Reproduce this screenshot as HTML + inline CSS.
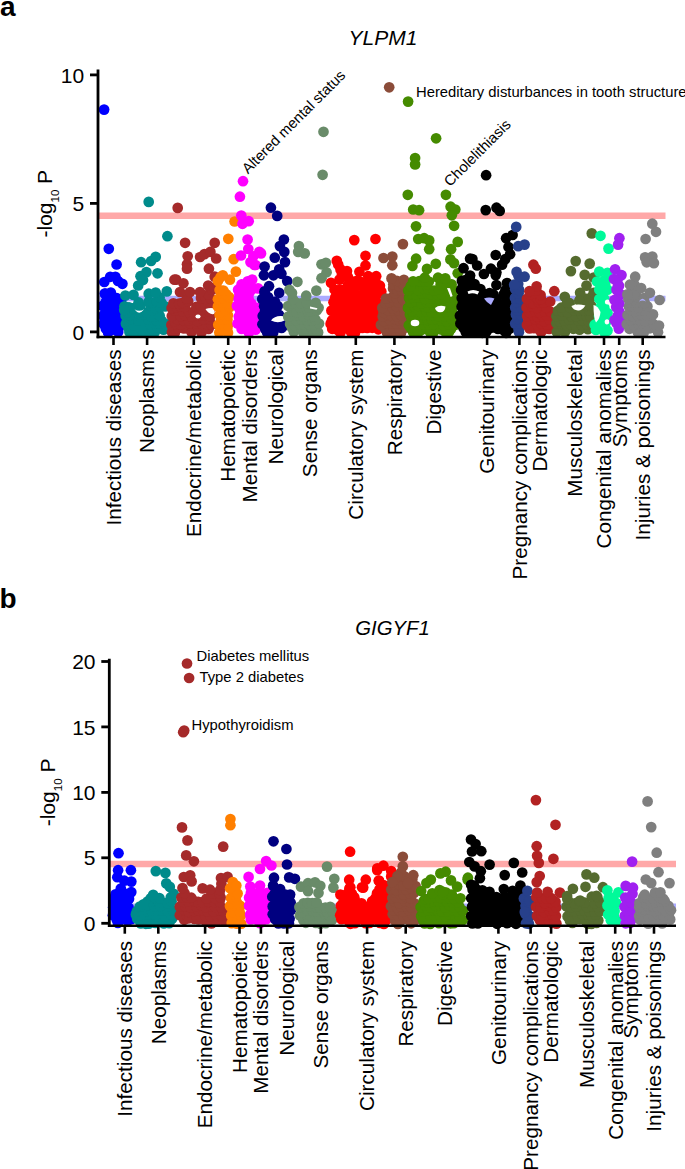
<!DOCTYPE html>
<html><head><meta charset="utf-8"><style>
html,body{margin:0;padding:0;background:#fff;}
svg{display:block;font-family:"Liberation Sans",sans-serif;}
</style></head><body>
<svg width="685" height="1169" viewBox="0 0 685 1169">
<rect width="685" height="1169" fill="#fff"/>
<text x="0" y="15.6" font-size="28" font-weight="bold">a</text>
<text x="-0.5" y="608" font-size="28" font-weight="bold">b</text>
<line x1="98" y1="298.5" x2="665.5" y2="298.5" stroke="#ABABFF" stroke-width="5.5"/>
<line x1="98" y1="215.7" x2="665.5" y2="215.7" stroke="#FFA8A8" stroke-width="6.5"/>
<g fill="#0000FF"><circle cx="108.1" cy="332.4" r="5.35"/><circle cx="118.2" cy="332.0" r="5.35"/><circle cx="105.8" cy="328.5" r="5.35"/><circle cx="108.8" cy="328.5" r="5.35"/><circle cx="114.3" cy="329.7" r="5.35"/><circle cx="118.9" cy="327.5" r="5.35"/><circle cx="103.6" cy="324.0" r="5.35"/><circle cx="107.3" cy="323.2" r="5.35"/><circle cx="112.4" cy="324.3" r="5.35"/><circle cx="116.9" cy="323.6" r="5.35"/><circle cx="104.5" cy="318.8" r="5.35"/><circle cx="110.1" cy="320.3" r="5.35"/><circle cx="116.2" cy="320.8" r="5.35"/><circle cx="119.6" cy="320.5" r="5.35"/><circle cx="103.5" cy="315.4" r="5.35"/><circle cx="107.9" cy="315.1" r="5.35"/><circle cx="113.4" cy="316.4" r="5.35"/><circle cx="117.7" cy="314.5" r="5.35"/><circle cx="105.7" cy="311.0" r="5.35"/><circle cx="110.1" cy="311.7" r="5.35"/><circle cx="114.7" cy="311.1" r="5.35"/><circle cx="120.7" cy="311.3" r="5.35"/><circle cx="102.5" cy="305.8" r="5.35"/><circle cx="108.0" cy="308.1" r="5.35"/><circle cx="112.2" cy="306.1" r="5.35"/><circle cx="118.7" cy="307.5" r="5.35"/><circle cx="105.9" cy="301.9" r="5.35"/><circle cx="111.1" cy="302.7" r="5.35"/><circle cx="107.5" cy="298.3" r="5.35"/><circle cx="111.4" cy="299.1" r="5.35"/><circle cx="116.8" cy="298.2" r="5.35"/><circle cx="104.7" cy="293.5" r="5.35"/><circle cx="110.3" cy="294.1" r="5.35"/><circle cx="104.1" cy="109.6" r="5.35"/><circle cx="108.8" cy="248.8" r="5.35"/><circle cx="116.6" cy="264.5" r="5.35"/><circle cx="110.2" cy="276.8" r="5.35"/><circle cx="115.4" cy="276.8" r="5.35"/><circle cx="104.3" cy="282" r="5.35"/><circle cx="122.4" cy="283.8" r="5.35"/><circle cx="118" cy="281" r="5.35"/><circle cx="105.5" cy="293.7" r="5.35"/><circle cx="110.8" cy="292.6" r="5.35"/><circle cx="114.9" cy="299.6" r="5.35"/><circle cx="121.3" cy="299.6" r="5.35"/></g>
<g fill="#008B8B"><circle cx="129.4" cy="332.1" r="5.35"/><circle cx="134.6" cy="332.0" r="5.35"/><circle cx="140.1" cy="332.2" r="5.35"/><circle cx="145.5" cy="332.9" r="5.35"/><circle cx="149.9" cy="331.9" r="5.35"/><circle cx="154.8" cy="332.3" r="5.35"/><circle cx="128.3" cy="327.5" r="5.35"/><circle cx="131.7" cy="329.2" r="5.35"/><circle cx="138.0" cy="329.1" r="5.35"/><circle cx="141.8" cy="329.8" r="5.35"/><circle cx="147.5" cy="328.0" r="5.35"/><circle cx="152.2" cy="328.8" r="5.35"/><circle cx="157.8" cy="327.6" r="5.35"/><circle cx="163.6" cy="329.6" r="5.35"/><circle cx="125.9" cy="323.8" r="5.35"/><circle cx="130.6" cy="324.1" r="5.35"/><circle cx="133.8" cy="325.2" r="5.35"/><circle cx="140.8" cy="325.4" r="5.35"/><circle cx="144.2" cy="325.2" r="5.35"/><circle cx="150.5" cy="324.3" r="5.35"/><circle cx="154.6" cy="323.6" r="5.35"/><circle cx="159.8" cy="323.6" r="5.35"/><circle cx="165.4" cy="323.8" r="5.35"/><circle cx="127.1" cy="320.8" r="5.35"/><circle cx="131.3" cy="319.2" r="5.35"/><circle cx="138.7" cy="320.6" r="5.35"/><circle cx="141.8" cy="320.4" r="5.35"/><circle cx="148.5" cy="319.6" r="5.35"/><circle cx="152.9" cy="319.9" r="5.35"/><circle cx="156.9" cy="320.5" r="5.35"/><circle cx="161.7" cy="320.9" r="5.35"/><circle cx="125.6" cy="315.8" r="5.35"/><circle cx="129.7" cy="315.2" r="5.35"/><circle cx="140.9" cy="314.7" r="5.35"/><circle cx="144.1" cy="314.5" r="5.35"/><circle cx="150.9" cy="316.3" r="5.35"/><circle cx="154.6" cy="315.9" r="5.35"/><circle cx="159.7" cy="315.8" r="5.35"/><circle cx="127.7" cy="312.3" r="5.35"/><circle cx="136.3" cy="311.7" r="5.35"/><circle cx="141.6" cy="312.2" r="5.35"/><circle cx="146.9" cy="312.4" r="5.35"/><circle cx="151.6" cy="310.5" r="5.35"/><circle cx="124.5" cy="306.3" r="5.35"/><circle cx="129.0" cy="307.3" r="5.35"/><circle cx="133.8" cy="308.1" r="5.35"/><circle cx="140.2" cy="306.8" r="5.35"/><circle cx="151.1" cy="306.0" r="5.35"/><circle cx="155.3" cy="308.1" r="5.35"/><circle cx="160.5" cy="307.3" r="5.35"/><circle cx="165.1" cy="306.4" r="5.35"/><circle cx="138.6" cy="302.3" r="5.35"/><circle cx="148.4" cy="302.1" r="5.35"/><circle cx="152.6" cy="302.7" r="5.35"/><circle cx="156.9" cy="301.4" r="5.35"/><circle cx="161.5" cy="302.7" r="5.35"/><circle cx="159.6" cy="297.3" r="5.35"/><circle cx="148.7" cy="201.9" r="5.35"/><circle cx="167.4" cy="236.2" r="5.35"/><circle cx="141.1" cy="262.2" r="5.35"/><circle cx="151.1" cy="261" r="5.35"/><circle cx="155.7" cy="256.9" r="5.35"/><circle cx="157.5" cy="273.3" r="5.35"/><circle cx="146.4" cy="272.1" r="5.35"/><circle cx="140.5" cy="276.2" r="5.35"/><circle cx="138.2" cy="285.5" r="5.35"/><circle cx="143" cy="280" r="5.35"/><circle cx="125.4" cy="295.5" r="5.35"/><circle cx="133.5" cy="294.9" r="5.35"/><circle cx="148.7" cy="293.7" r="5.35"/><circle cx="155.7" cy="292.6" r="5.35"/><circle cx="166.8" cy="291.4" r="5.35"/><circle cx="124.2" cy="310" r="5.35"/></g>
<path d="M134.5,309.3 Q139,316 144.2,309.3 Q139,312.3 134.5,309.3Z" fill="#fff"/>
<g fill="#A52A2A"><circle cx="171.9" cy="332.1" r="5.35"/><circle cx="174.9" cy="332.6" r="5.35"/><circle cx="191.5" cy="332.2" r="5.35"/><circle cx="201.4" cy="332.4" r="5.35"/><circle cx="174.3" cy="328.5" r="5.35"/><circle cx="178.1" cy="328.1" r="5.35"/><circle cx="183.9" cy="328.5" r="5.35"/><circle cx="187.4" cy="328.3" r="5.35"/><circle cx="192.6" cy="328.1" r="5.35"/><circle cx="198.3" cy="328.4" r="5.35"/><circle cx="202.9" cy="327.5" r="5.35"/><circle cx="208.5" cy="329.0" r="5.35"/><circle cx="171.4" cy="324.9" r="5.35"/><circle cx="176.0" cy="324.2" r="5.35"/><circle cx="180.8" cy="324.4" r="5.35"/><circle cx="187.0" cy="323.8" r="5.35"/><circle cx="189.9" cy="323.3" r="5.35"/><circle cx="196.9" cy="323.5" r="5.35"/><circle cx="201.9" cy="323.8" r="5.35"/><circle cx="206.8" cy="324.0" r="5.35"/><circle cx="211.6" cy="324.5" r="5.35"/><circle cx="174.5" cy="321.1" r="5.35"/><circle cx="177.7" cy="319.4" r="5.35"/><circle cx="183.7" cy="320.6" r="5.35"/><circle cx="188.9" cy="320.5" r="5.35"/><circle cx="193.5" cy="319.1" r="5.35"/><circle cx="197.4" cy="321.1" r="5.35"/><circle cx="203.8" cy="319.4" r="5.35"/><circle cx="209.6" cy="319.1" r="5.35"/><circle cx="171.8" cy="316.0" r="5.35"/><circle cx="180.7" cy="316.3" r="5.35"/><circle cx="185.2" cy="315.2" r="5.35"/><circle cx="192.0" cy="316.7" r="5.35"/><circle cx="196.2" cy="315.4" r="5.35"/><circle cx="200.5" cy="315.0" r="5.35"/><circle cx="204.8" cy="314.9" r="5.35"/><circle cx="209.9" cy="315.9" r="5.35"/><circle cx="174.3" cy="310.5" r="5.35"/><circle cx="178.6" cy="310.7" r="5.35"/><circle cx="182.9" cy="311.7" r="5.35"/><circle cx="189.2" cy="312.4" r="5.35"/><circle cx="193.5" cy="312.1" r="5.35"/><circle cx="198.7" cy="311.0" r="5.35"/><circle cx="202.6" cy="312.0" r="5.35"/><circle cx="209.1" cy="311.4" r="5.35"/><circle cx="171.6" cy="308.0" r="5.35"/><circle cx="176.0" cy="307.1" r="5.35"/><circle cx="181.0" cy="306.6" r="5.35"/><circle cx="184.8" cy="306.8" r="5.35"/><circle cx="196.4" cy="306.9" r="5.35"/><circle cx="200.7" cy="306.2" r="5.35"/><circle cx="205.5" cy="307.1" r="5.35"/><circle cx="211.8" cy="306.9" r="5.35"/><circle cx="173.4" cy="303.4" r="5.35"/><circle cx="179.1" cy="303.7" r="5.35"/><circle cx="182.7" cy="302.8" r="5.35"/><circle cx="188.2" cy="301.4" r="5.35"/><circle cx="208.8" cy="302.9" r="5.35"/><circle cx="186.8" cy="298.5" r="5.35"/><circle cx="201.0" cy="298.1" r="5.35"/><circle cx="206.0" cy="298.8" r="5.35"/><circle cx="210.7" cy="298.6" r="5.35"/><circle cx="208.5" cy="294.4" r="5.35"/><circle cx="212.0" cy="289.8" r="5.35"/><circle cx="177.7" cy="207.9" r="5.35"/><circle cx="185.1" cy="242.8" r="5.35"/><circle cx="214.7" cy="242.8" r="5.35"/><circle cx="187.7" cy="256.3" r="5.35"/><circle cx="200.1" cy="257" r="5.35"/><circle cx="204.5" cy="254.1" r="5.35"/><circle cx="210.4" cy="251.9" r="5.35"/><circle cx="216.2" cy="258.5" r="5.35"/><circle cx="187" cy="264.3" r="5.35"/><circle cx="187" cy="268.7" r="5.35"/><circle cx="208.9" cy="268.7" r="5.35"/><circle cx="176.1" cy="279.6" r="5.35"/><circle cx="183.4" cy="283.3" r="5.35"/><circle cx="214.7" cy="276.7" r="5.35"/><circle cx="208.2" cy="285.5" r="5.35"/><circle cx="174.4" cy="279.7" r="5.35"/><circle cx="180" cy="292" r="5.35"/><circle cx="190" cy="292" r="5.35"/><circle cx="200" cy="292" r="5.35"/><circle cx="214" cy="288" r="5.35"/></g>
<path d="M205.5,309 Q210,307.5 215,308.5 L214,314 Q209,315 205.5,309Z" fill="#fff"/>
<ellipse cx="198" cy="316.5" rx="2.6" ry="2" fill="#fff"/>
<g fill="#FF7F00"><circle cx="219.3" cy="332.6" r="5.35"/><circle cx="228.0" cy="332.8" r="5.35"/><circle cx="221.2" cy="327.9" r="5.35"/><circle cx="227.3" cy="328.6" r="5.35"/><circle cx="218.3" cy="324.8" r="5.35"/><circle cx="224.2" cy="325.3" r="5.35"/><circle cx="227.9" cy="325.0" r="5.35"/><circle cx="221.1" cy="319.7" r="5.35"/><circle cx="227.5" cy="319.7" r="5.35"/><circle cx="219.6" cy="314.8" r="5.35"/><circle cx="222.8" cy="314.7" r="5.35"/><circle cx="227.9" cy="315.3" r="5.35"/><circle cx="221.4" cy="312.1" r="5.35"/><circle cx="225.4" cy="310.2" r="5.35"/><circle cx="217.9" cy="306.4" r="5.35"/><circle cx="223.0" cy="305.8" r="5.35"/><circle cx="229.6" cy="307.3" r="5.35"/><circle cx="221.9" cy="302.3" r="5.35"/><circle cx="227.6" cy="302.9" r="5.35"/><circle cx="217.9" cy="299.2" r="5.35"/><circle cx="223.6" cy="298.5" r="5.35"/><circle cx="229.1" cy="297.1" r="5.35"/><circle cx="221.3" cy="293.1" r="5.35"/><circle cx="226.3" cy="294.2" r="5.35"/><circle cx="219.6" cy="290.0" r="5.35"/><circle cx="223.4" cy="290.6" r="5.35"/><circle cx="217.9" cy="280.9" r="5.35"/><circle cx="229.9" cy="279.7" r="5.35"/><circle cx="220.5" cy="277.2" r="5.35"/><circle cx="234.6" cy="221.5" r="5.35"/><circle cx="228.3" cy="238.8" r="5.35"/><circle cx="233.7" cy="259.2" r="5.35"/><circle cx="235.9" cy="271.6" r="5.35"/><circle cx="222.8" cy="275.3" r="5.35"/></g>
<g fill="#FF00FF"><circle cx="248.9" cy="332.5" r="5.35"/><circle cx="241.6" cy="328.9" r="5.35"/><circle cx="245.9" cy="328.5" r="5.35"/><circle cx="251.0" cy="329.5" r="5.35"/><circle cx="255.6" cy="329.6" r="5.35"/><circle cx="237.5" cy="323.5" r="5.35"/><circle cx="243.1" cy="323.3" r="5.35"/><circle cx="248.2" cy="323.2" r="5.35"/><circle cx="253.4" cy="323.9" r="5.35"/><circle cx="240.5" cy="320.0" r="5.35"/><circle cx="246.5" cy="319.5" r="5.35"/><circle cx="249.5" cy="321.1" r="5.35"/><circle cx="256.5" cy="321.0" r="5.35"/><circle cx="238.8" cy="316.6" r="5.35"/><circle cx="243.7" cy="314.7" r="5.35"/><circle cx="248.2" cy="316.8" r="5.35"/><circle cx="253.5" cy="316.2" r="5.35"/><circle cx="240.3" cy="311.2" r="5.35"/><circle cx="245.6" cy="310.5" r="5.35"/><circle cx="250.9" cy="311.4" r="5.35"/><circle cx="254.7" cy="311.0" r="5.35"/><circle cx="236.9" cy="305.9" r="5.35"/><circle cx="242.4" cy="306.0" r="5.35"/><circle cx="248.3" cy="307.0" r="5.35"/><circle cx="252.0" cy="307.7" r="5.35"/><circle cx="257.2" cy="307.8" r="5.35"/><circle cx="240.2" cy="303.4" r="5.35"/><circle cx="245.0" cy="303.5" r="5.35"/><circle cx="251.4" cy="303.5" r="5.35"/><circle cx="238.7" cy="298.7" r="5.35"/><circle cx="244.2" cy="297.6" r="5.35"/><circle cx="248.6" cy="298.8" r="5.35"/><circle cx="239.4" cy="294.7" r="5.35"/><circle cx="244.8" cy="293.4" r="5.35"/><circle cx="249.3" cy="292.9" r="5.35"/><circle cx="238.1" cy="289.7" r="5.35"/><circle cx="249.1" cy="289.3" r="5.35"/><circle cx="252.5" cy="289.0" r="5.35"/><circle cx="241.6" cy="284.3" r="5.35"/><circle cx="246.7" cy="285.7" r="5.35"/><circle cx="247.7" cy="281.4" r="5.35"/><circle cx="243" cy="181.2" r="5.35"/><circle cx="239.9" cy="196.7" r="5.35"/><circle cx="241.3" cy="215.6" r="5.35"/><circle cx="248.7" cy="221.2" r="5.35"/><circle cx="242.5" cy="223.8" r="5.35"/><circle cx="247.6" cy="239.5" r="5.35"/><circle cx="248.3" cy="249" r="5.35"/><circle cx="241" cy="255.5" r="5.35"/><circle cx="253.4" cy="256.3" r="5.35"/><circle cx="250.5" cy="262.1" r="5.35"/><circle cx="255.6" cy="265" r="5.35"/><circle cx="259.3" cy="251.9" r="5.35"/><circle cx="261" cy="253.4" r="5.35"/><circle cx="254.4" cy="265" r="5.35"/><circle cx="252.2" cy="279.6" r="5.35"/><circle cx="258" cy="288.4" r="5.35"/></g>
<g fill="#000080"><circle cx="267.2" cy="332.4" r="5.35"/><circle cx="273.2" cy="332.5" r="5.35"/><circle cx="265.3" cy="329.3" r="5.35"/><circle cx="271.0" cy="328.6" r="5.35"/><circle cx="276.0" cy="327.7" r="5.35"/><circle cx="281.6" cy="328.0" r="5.35"/><circle cx="262.4" cy="324.3" r="5.35"/><circle cx="267.8" cy="324.8" r="5.35"/><circle cx="272.0" cy="324.6" r="5.35"/><circle cx="278.1" cy="324.4" r="5.35"/><circle cx="284.1" cy="325.4" r="5.35"/><circle cx="265.6" cy="319.8" r="5.35"/><circle cx="269.6" cy="319.4" r="5.35"/><circle cx="275.5" cy="320.7" r="5.35"/><circle cx="281.2" cy="320.4" r="5.35"/><circle cx="262.7" cy="316.0" r="5.35"/><circle cx="268.0" cy="316.6" r="5.35"/><circle cx="273.8" cy="314.7" r="5.35"/><circle cx="279.0" cy="314.9" r="5.35"/><circle cx="265.0" cy="311.2" r="5.35"/><circle cx="270.6" cy="310.6" r="5.35"/><circle cx="275.1" cy="311.2" r="5.35"/><circle cx="264.1" cy="306.3" r="5.35"/><circle cx="267.9" cy="307.5" r="5.35"/><circle cx="272.3" cy="306.4" r="5.35"/><circle cx="277.8" cy="306.0" r="5.35"/><circle cx="265.6" cy="302.8" r="5.35"/><circle cx="270.3" cy="302.0" r="5.35"/><circle cx="274.9" cy="301.9" r="5.35"/><circle cx="262.2" cy="299.1" r="5.35"/><circle cx="268.1" cy="297.1" r="5.35"/><circle cx="264.6" cy="293.0" r="5.35"/><circle cx="270.9" cy="207.7" r="5.35"/><circle cx="277.2" cy="215.9" r="5.35"/><circle cx="283.9" cy="239.5" r="5.35"/><circle cx="279.9" cy="246.1" r="5.35"/><circle cx="284.3" cy="251.9" r="5.35"/><circle cx="274.8" cy="257.7" r="5.35"/><circle cx="285" cy="262.1" r="5.35"/><circle cx="264.6" cy="266.5" r="5.35"/><circle cx="263.9" cy="275.3" r="5.35"/><circle cx="273.4" cy="275.3" r="5.35"/><circle cx="279.2" cy="269.4" r="5.35"/><circle cx="281.4" cy="273.8" r="5.35"/><circle cx="287.2" cy="281.1" r="5.35"/><circle cx="269" cy="286.2" r="5.35"/><circle cx="264.6" cy="291.3" r="5.35"/><circle cx="279.2" cy="292.8" r="5.35"/></g>
<path d="M271,320.5 Q275,314.5 285,316.3 L294,316.5 Q290,319.5 285,320.3 Q278,324 271,320.5Z" fill="#fff"/>
<g fill="#698B69"><circle cx="293.8" cy="331.8" r="5.35"/><circle cx="303.0" cy="332.3" r="5.35"/><circle cx="310.2" cy="332.6" r="5.35"/><circle cx="314.0" cy="331.9" r="5.35"/><circle cx="318.1" cy="332.4" r="5.35"/><circle cx="291.9" cy="327.5" r="5.35"/><circle cx="297.0" cy="327.7" r="5.35"/><circle cx="300.9" cy="327.6" r="5.35"/><circle cx="305.6" cy="328.4" r="5.35"/><circle cx="311.8" cy="328.0" r="5.35"/><circle cx="316.0" cy="328.7" r="5.35"/><circle cx="290.1" cy="323.9" r="5.35"/><circle cx="294.3" cy="325.1" r="5.35"/><circle cx="299.9" cy="324.1" r="5.35"/><circle cx="304.3" cy="324.4" r="5.35"/><circle cx="309.1" cy="324.0" r="5.35"/><circle cx="314.3" cy="324.4" r="5.35"/><circle cx="319.0" cy="323.5" r="5.35"/><circle cx="291.3" cy="320.1" r="5.35"/><circle cx="296.0" cy="320.0" r="5.35"/><circle cx="301.3" cy="319.0" r="5.35"/><circle cx="306.9" cy="320.1" r="5.35"/><circle cx="312.3" cy="320.5" r="5.35"/><circle cx="315.4" cy="319.5" r="5.35"/><circle cx="288.2" cy="316.6" r="5.35"/><circle cx="294.9" cy="314.9" r="5.35"/><circle cx="299.8" cy="315.2" r="5.35"/><circle cx="303.2" cy="316.4" r="5.35"/><circle cx="308.9" cy="314.7" r="5.35"/><circle cx="313.4" cy="316.0" r="5.35"/><circle cx="292.5" cy="311.6" r="5.35"/><circle cx="296.6" cy="312.2" r="5.35"/><circle cx="302.2" cy="311.5" r="5.35"/><circle cx="307.5" cy="311.0" r="5.35"/><circle cx="310.4" cy="311.2" r="5.35"/><circle cx="317.0" cy="310.1" r="5.35"/><circle cx="288.1" cy="306.0" r="5.35"/><circle cx="300.0" cy="307.3" r="5.35"/><circle cx="308.4" cy="307.0" r="5.35"/><circle cx="318.6" cy="307.8" r="5.35"/><circle cx="291.9" cy="303.7" r="5.35"/><circle cx="295.4" cy="302.4" r="5.35"/><circle cx="301.0" cy="303.3" r="5.35"/><circle cx="307.0" cy="302.9" r="5.35"/><circle cx="315.7" cy="302.9" r="5.35"/><circle cx="292.9" cy="299.2" r="5.35"/><circle cx="292.0" cy="293.1" r="5.35"/><circle cx="323.5" cy="131.8" r="5.35"/><circle cx="322.6" cy="174.8" r="5.35"/><circle cx="298.9" cy="246.1" r="5.35"/><circle cx="298.2" cy="251.9" r="5.35"/><circle cx="304.7" cy="253.4" r="5.35"/><circle cx="321.5" cy="264.3" r="5.35"/><circle cx="325.9" cy="262.8" r="5.35"/><circle cx="326.6" cy="272.3" r="5.35"/><circle cx="321.5" cy="278.2" r="5.35"/><circle cx="297.4" cy="281.8" r="5.35"/><circle cx="289.4" cy="289.9" r="5.35"/><circle cx="316.4" cy="290.6" r="5.35"/><circle cx="306.2" cy="295.7" r="5.35"/></g>
<path d="M310,306.6 L317.5,308.3 L316.5,309.8 L310,308.6Z" fill="#fff"/>
<g fill="#FF0000"><circle cx="340.4" cy="332.6" r="5.35"/><circle cx="351.1" cy="332.2" r="5.35"/><circle cx="355.0" cy="332.8" r="5.35"/><circle cx="332.2" cy="328.8" r="5.35"/><circle cx="337.4" cy="329.8" r="5.35"/><circle cx="341.3" cy="329.7" r="5.35"/><circle cx="347.0" cy="328.4" r="5.35"/><circle cx="353.7" cy="329.1" r="5.35"/><circle cx="357.6" cy="328.5" r="5.35"/><circle cx="362.3" cy="327.9" r="5.35"/><circle cx="367.2" cy="327.9" r="5.35"/><circle cx="372.2" cy="327.8" r="5.35"/><circle cx="378.3" cy="329.3" r="5.35"/><circle cx="330.6" cy="323.9" r="5.35"/><circle cx="334.4" cy="323.9" r="5.35"/><circle cx="339.9" cy="323.5" r="5.35"/><circle cx="344.4" cy="323.6" r="5.35"/><circle cx="350.1" cy="323.6" r="5.35"/><circle cx="355.9" cy="324.5" r="5.35"/><circle cx="359.7" cy="323.6" r="5.35"/><circle cx="364.0" cy="325.0" r="5.35"/><circle cx="370.6" cy="324.0" r="5.35"/><circle cx="375.2" cy="323.4" r="5.35"/><circle cx="379.0" cy="323.7" r="5.35"/><circle cx="332.0" cy="320.3" r="5.35"/><circle cx="337.2" cy="320.8" r="5.35"/><circle cx="343.0" cy="319.6" r="5.35"/><circle cx="346.5" cy="320.7" r="5.35"/><circle cx="352.4" cy="319.4" r="5.35"/><circle cx="357.7" cy="320.2" r="5.35"/><circle cx="361.9" cy="318.9" r="5.35"/><circle cx="367.1" cy="320.7" r="5.35"/><circle cx="372.8" cy="319.0" r="5.35"/><circle cx="377.8" cy="319.3" r="5.35"/><circle cx="335.5" cy="316.4" r="5.35"/><circle cx="341.0" cy="314.7" r="5.35"/><circle cx="344.4" cy="314.4" r="5.35"/><circle cx="349.3" cy="316.2" r="5.35"/><circle cx="355.0" cy="315.9" r="5.35"/><circle cx="360.3" cy="316.0" r="5.35"/><circle cx="365.0" cy="316.5" r="5.35"/><circle cx="370.6" cy="315.4" r="5.35"/><circle cx="374.0" cy="316.4" r="5.35"/><circle cx="331.4" cy="310.6" r="5.35"/><circle cx="337.6" cy="312.3" r="5.35"/><circle cx="341.5" cy="311.7" r="5.35"/><circle cx="347.3" cy="311.1" r="5.35"/><circle cx="352.7" cy="310.5" r="5.35"/><circle cx="357.6" cy="310.5" r="5.35"/><circle cx="363.4" cy="312.4" r="5.35"/><circle cx="366.5" cy="312.2" r="5.35"/><circle cx="373.3" cy="310.5" r="5.35"/><circle cx="378.5" cy="310.7" r="5.35"/><circle cx="334.8" cy="308.1" r="5.35"/><circle cx="340.8" cy="307.3" r="5.35"/><circle cx="346.0" cy="306.8" r="5.35"/><circle cx="350.1" cy="307.9" r="5.35"/><circle cx="354.8" cy="307.1" r="5.35"/><circle cx="359.2" cy="307.1" r="5.35"/><circle cx="364.5" cy="307.8" r="5.35"/><circle cx="370.7" cy="306.7" r="5.35"/><circle cx="375.7" cy="307.1" r="5.35"/><circle cx="333.5" cy="302.2" r="5.35"/><circle cx="337.6" cy="302.9" r="5.35"/><circle cx="342.5" cy="302.9" r="5.35"/><circle cx="347.4" cy="302.6" r="5.35"/><circle cx="351.3" cy="301.7" r="5.35"/><circle cx="356.8" cy="303.5" r="5.35"/><circle cx="361.6" cy="302.1" r="5.35"/><circle cx="368.3" cy="303.7" r="5.35"/><circle cx="372.8" cy="301.4" r="5.35"/><circle cx="377.8" cy="303.3" r="5.35"/><circle cx="335.3" cy="297.2" r="5.35"/><circle cx="341.0" cy="297.6" r="5.35"/><circle cx="344.5" cy="298.7" r="5.35"/><circle cx="349.3" cy="297.7" r="5.35"/><circle cx="355.6" cy="297.7" r="5.35"/><circle cx="361.1" cy="299.0" r="5.35"/><circle cx="364.6" cy="299.2" r="5.35"/><circle cx="369.1" cy="298.1" r="5.35"/><circle cx="375.6" cy="297.1" r="5.35"/><circle cx="341.8" cy="292.9" r="5.35"/><circle cx="347.7" cy="292.9" r="5.35"/><circle cx="357.1" cy="295.0" r="5.35"/><circle cx="361.8" cy="294.9" r="5.35"/><circle cx="368.7" cy="292.7" r="5.35"/><circle cx="372.6" cy="292.7" r="5.35"/><circle cx="376.5" cy="294.6" r="5.35"/><circle cx="334.5" cy="289.5" r="5.35"/><circle cx="339.7" cy="289.9" r="5.35"/><circle cx="344.2" cy="289.9" r="5.35"/><circle cx="351.0" cy="289.3" r="5.35"/><circle cx="353.9" cy="288.3" r="5.35"/><circle cx="364.8" cy="290.0" r="5.35"/><circle cx="369.0" cy="289.3" r="5.35"/><circle cx="347.9" cy="285.2" r="5.35"/><circle cx="353.2" cy="285.4" r="5.35"/><circle cx="357.0" cy="285.4" r="5.35"/><circle cx="362.4" cy="286.1" r="5.35"/><circle cx="373.0" cy="285.5" r="5.35"/><circle cx="377.3" cy="285.5" r="5.35"/><circle cx="339.5" cy="279.6" r="5.35"/><circle cx="349.3" cy="279.8" r="5.35"/><circle cx="356.2" cy="281.1" r="5.35"/><circle cx="360.5" cy="281.9" r="5.35"/><circle cx="369.2" cy="281.4" r="5.35"/><circle cx="375.2" cy="280.5" r="5.35"/><circle cx="347.8" cy="276.8" r="5.35"/><circle cx="354.3" cy="240.1" r="5.35"/><circle cx="375.5" cy="239" r="5.35"/><circle cx="365.5" cy="255.8" r="5.35"/><circle cx="365.5" cy="265.5" r="5.35"/><circle cx="336.8" cy="260.9" r="5.35"/><circle cx="338.2" cy="264.5" r="5.35"/><circle cx="340.5" cy="269.4" r="5.35"/><circle cx="347" cy="271.1" r="5.35"/><circle cx="341.9" cy="274" r="5.35"/><circle cx="359.4" cy="271.8" r="5.35"/><circle cx="368.2" cy="276.2" r="5.35"/><circle cx="376.2" cy="276.2" r="5.35"/><circle cx="331" cy="282.8" r="5.35"/><circle cx="379.9" cy="285.7" r="5.35"/><circle cx="381.3" cy="291.5" r="5.35"/></g>
<g fill="#8B4C39"><circle cx="387.0" cy="332.6" r="5.35"/><circle cx="392.2" cy="332.5" r="5.35"/><circle cx="396.5" cy="331.8" r="5.35"/><circle cx="401.0" cy="333.0" r="5.35"/><circle cx="385.4" cy="329.2" r="5.35"/><circle cx="390.7" cy="328.1" r="5.35"/><circle cx="393.9" cy="327.7" r="5.35"/><circle cx="399.5" cy="327.8" r="5.35"/><circle cx="405.6" cy="327.6" r="5.35"/><circle cx="380.9" cy="324.9" r="5.35"/><circle cx="386.0" cy="323.1" r="5.35"/><circle cx="391.6" cy="323.1" r="5.35"/><circle cx="396.3" cy="323.6" r="5.35"/><circle cx="402.1" cy="323.7" r="5.35"/><circle cx="383.8" cy="320.9" r="5.35"/><circle cx="389.6" cy="319.8" r="5.35"/><circle cx="394.3" cy="318.8" r="5.35"/><circle cx="399.8" cy="320.6" r="5.35"/><circle cx="403.7" cy="320.9" r="5.35"/><circle cx="382.7" cy="316.5" r="5.35"/><circle cx="387.8" cy="314.8" r="5.35"/><circle cx="391.5" cy="315.2" r="5.35"/><circle cx="396.9" cy="316.3" r="5.35"/><circle cx="401.1" cy="314.9" r="5.35"/><circle cx="383.6" cy="312.3" r="5.35"/><circle cx="388.8" cy="310.7" r="5.35"/><circle cx="394.3" cy="310.6" r="5.35"/><circle cx="398.9" cy="310.5" r="5.35"/><circle cx="404.4" cy="312.1" r="5.35"/><circle cx="382.3" cy="307.8" r="5.35"/><circle cx="392.9" cy="307.9" r="5.35"/><circle cx="396.1" cy="305.9" r="5.35"/><circle cx="402.9" cy="307.0" r="5.35"/><circle cx="385.5" cy="303.2" r="5.35"/><circle cx="389.4" cy="302.2" r="5.35"/><circle cx="394.4" cy="301.4" r="5.35"/><circle cx="398.7" cy="302.7" r="5.35"/><circle cx="405.0" cy="301.7" r="5.35"/><circle cx="386.0" cy="298.5" r="5.35"/><circle cx="392.3" cy="297.4" r="5.35"/><circle cx="396.5" cy="298.0" r="5.35"/><circle cx="402.9" cy="299.2" r="5.35"/><circle cx="395.0" cy="293.1" r="5.35"/><circle cx="393.1" cy="288.4" r="5.35"/><circle cx="397.3" cy="290.6" r="5.35"/><circle cx="401.4" cy="290.3" r="5.35"/><circle cx="393.3" cy="284.2" r="5.35"/><circle cx="399.2" cy="286.1" r="5.35"/><circle cx="403.8" cy="284.7" r="5.35"/><circle cx="396.9" cy="280.8" r="5.35"/><circle cx="389.2" cy="87.3" r="5.35"/><circle cx="402.9" cy="244.1" r="5.35"/><circle cx="383.5" cy="258" r="5.35"/><circle cx="392.3" cy="256.5" r="5.35"/><circle cx="392.3" cy="265.3" r="5.35"/><circle cx="391.5" cy="278.4" r="5.35"/><circle cx="403.9" cy="279.9" r="5.35"/></g>
<g fill="#458B00"><circle cx="413.1" cy="332.3" r="5.35"/><circle cx="418.7" cy="331.9" r="5.35"/><circle cx="429.9" cy="332.0" r="5.35"/><circle cx="433.3" cy="332.6" r="5.35"/><circle cx="445.2" cy="331.8" r="5.35"/><circle cx="449.0" cy="331.9" r="5.35"/><circle cx="410.6" cy="327.6" r="5.35"/><circle cx="417.1" cy="328.8" r="5.35"/><circle cx="421.8" cy="329.6" r="5.35"/><circle cx="426.5" cy="328.4" r="5.35"/><circle cx="430.5" cy="329.0" r="5.35"/><circle cx="435.3" cy="327.9" r="5.35"/><circle cx="441.1" cy="329.5" r="5.35"/><circle cx="446.0" cy="328.6" r="5.35"/><circle cx="451.0" cy="329.0" r="5.35"/><circle cx="408.8" cy="325.3" r="5.35"/><circle cx="413.7" cy="324.7" r="5.35"/><circle cx="419.2" cy="324.6" r="5.35"/><circle cx="423.6" cy="323.9" r="5.35"/><circle cx="429.1" cy="324.5" r="5.35"/><circle cx="433.8" cy="324.2" r="5.35"/><circle cx="440.1" cy="323.7" r="5.35"/><circle cx="443.4" cy="324.9" r="5.35"/><circle cx="449.0" cy="324.5" r="5.35"/><circle cx="455.0" cy="325.0" r="5.35"/><circle cx="411.5" cy="318.8" r="5.35"/><circle cx="416.6" cy="320.5" r="5.35"/><circle cx="421.7" cy="318.9" r="5.35"/><circle cx="427.3" cy="319.8" r="5.35"/><circle cx="431.9" cy="319.5" r="5.35"/><circle cx="437.1" cy="319.6" r="5.35"/><circle cx="441.4" cy="320.7" r="5.35"/><circle cx="446.7" cy="321.1" r="5.35"/><circle cx="451.5" cy="318.8" r="5.35"/><circle cx="409.9" cy="314.5" r="5.35"/><circle cx="414.0" cy="316.8" r="5.35"/><circle cx="418.1" cy="315.0" r="5.35"/><circle cx="423.6" cy="314.8" r="5.35"/><circle cx="429.3" cy="315.1" r="5.35"/><circle cx="433.8" cy="315.5" r="5.35"/><circle cx="438.2" cy="315.9" r="5.35"/><circle cx="444.2" cy="316.3" r="5.35"/><circle cx="448.2" cy="314.4" r="5.35"/><circle cx="453.1" cy="315.3" r="5.35"/><circle cx="412.1" cy="311.5" r="5.35"/><circle cx="417.3" cy="311.1" r="5.35"/><circle cx="420.4" cy="311.8" r="5.35"/><circle cx="426.2" cy="311.1" r="5.35"/><circle cx="431.4" cy="312.1" r="5.35"/><circle cx="435.8" cy="312.4" r="5.35"/><circle cx="441.2" cy="312.2" r="5.35"/><circle cx="445.7" cy="311.5" r="5.35"/><circle cx="452.2" cy="311.4" r="5.35"/><circle cx="408.0" cy="307.9" r="5.35"/><circle cx="414.8" cy="306.8" r="5.35"/><circle cx="418.0" cy="305.8" r="5.35"/><circle cx="425.0" cy="306.8" r="5.35"/><circle cx="428.2" cy="307.0" r="5.35"/><circle cx="434.9" cy="307.5" r="5.35"/><circle cx="438.2" cy="306.1" r="5.35"/><circle cx="444.3" cy="306.2" r="5.35"/><circle cx="448.3" cy="306.8" r="5.35"/><circle cx="453.0" cy="305.9" r="5.35"/><circle cx="410.7" cy="302.2" r="5.35"/><circle cx="416.0" cy="301.4" r="5.35"/><circle cx="421.4" cy="303.1" r="5.35"/><circle cx="426.7" cy="302.1" r="5.35"/><circle cx="430.7" cy="302.5" r="5.35"/><circle cx="436.4" cy="302.6" r="5.35"/><circle cx="441.1" cy="303.3" r="5.35"/><circle cx="446.6" cy="302.9" r="5.35"/><circle cx="451.1" cy="302.8" r="5.35"/><circle cx="409.0" cy="297.9" r="5.35"/><circle cx="413.3" cy="297.6" r="5.35"/><circle cx="419.2" cy="297.6" r="5.35"/><circle cx="425.0" cy="298.8" r="5.35"/><circle cx="430.1" cy="297.8" r="5.35"/><circle cx="434.2" cy="298.6" r="5.35"/><circle cx="439.7" cy="299.0" r="5.35"/><circle cx="443.3" cy="298.0" r="5.35"/><circle cx="449.4" cy="297.4" r="5.35"/><circle cx="455.0" cy="299.3" r="5.35"/><circle cx="412.2" cy="294.7" r="5.35"/><circle cx="415.5" cy="294.1" r="5.35"/><circle cx="422.0" cy="293.4" r="5.35"/><circle cx="427.2" cy="292.9" r="5.35"/><circle cx="430.7" cy="293.9" r="5.35"/><circle cx="437.7" cy="294.5" r="5.35"/><circle cx="441.3" cy="294.0" r="5.35"/><circle cx="408.2" cy="290.6" r="5.35"/><circle cx="414.2" cy="288.6" r="5.35"/><circle cx="418.6" cy="290.2" r="5.35"/><circle cx="423.6" cy="288.6" r="5.35"/><circle cx="428.2" cy="288.9" r="5.35"/><circle cx="434.0" cy="290.5" r="5.35"/><circle cx="439.1" cy="289.7" r="5.35"/><circle cx="448.6" cy="288.5" r="5.35"/><circle cx="454.1" cy="290.4" r="5.35"/><circle cx="410.8" cy="286.1" r="5.35"/><circle cx="427.2" cy="284.2" r="5.35"/><circle cx="440.6" cy="284.8" r="5.35"/><circle cx="447.1" cy="284.9" r="5.35"/><circle cx="451.6" cy="284.4" r="5.35"/><circle cx="419.3" cy="281.0" r="5.35"/><circle cx="424.8" cy="281.6" r="5.35"/><circle cx="428.8" cy="281.5" r="5.35"/><circle cx="408.1" cy="101.6" r="5.35"/><circle cx="436.1" cy="138.3" r="5.35"/><circle cx="415.1" cy="158.1" r="5.35"/><circle cx="415.1" cy="164.4" r="5.35"/><circle cx="407.8" cy="194.8" r="5.35"/><circle cx="445.9" cy="194.8" r="5.35"/><circle cx="413.2" cy="209.5" r="5.35"/><circle cx="419.1" cy="210.2" r="5.35"/><circle cx="450.6" cy="206.7" r="5.35"/><circle cx="455.3" cy="209.5" r="5.35"/><circle cx="451.8" cy="215.3" r="5.35"/><circle cx="416" cy="226.3" r="5.35"/><circle cx="454.1" cy="225.8" r="5.35"/><circle cx="418.2" cy="239" r="5.35"/><circle cx="424.1" cy="238.2" r="5.35"/><circle cx="429.2" cy="240.4" r="5.35"/><circle cx="429.2" cy="249.2" r="5.35"/><circle cx="457.7" cy="241.9" r="5.35"/><circle cx="451.1" cy="249.2" r="5.35"/><circle cx="416.1" cy="258.7" r="5.35"/><circle cx="412.4" cy="266" r="5.35"/><circle cx="435.8" cy="263.8" r="5.35"/><circle cx="450.4" cy="259.4" r="5.35"/><circle cx="454" cy="263.1" r="5.35"/><circle cx="427" cy="268.9" r="5.35"/><circle cx="457.7" cy="273.3" r="5.35"/><circle cx="424.8" cy="277.7" r="5.35"/><circle cx="413.1" cy="281.3" r="5.35"/><circle cx="438" cy="277.7" r="5.35"/><circle cx="445.3" cy="278.4" r="5.35"/></g>
<path d="M447,288 L450,288.3 L452.6,296 L450.6,297Z" fill="#fff"/>
<path d="M435,308 Q439,304.5 445.5,306.5 Q445,312.5 440,312.3 Q436,312 435,308Z" fill="#fff"/>
<ellipse cx="415" cy="323" rx="4.3" ry="3.3" fill="#fff"/>
<g fill="#000000"><circle cx="465.8" cy="332.2" r="5.35"/><circle cx="470.1" cy="332.5" r="5.35"/><circle cx="474.9" cy="332.0" r="5.35"/><circle cx="482.2" cy="332.8" r="5.35"/><circle cx="486.2" cy="332.0" r="5.35"/><circle cx="506.1" cy="332.9" r="5.35"/><circle cx="463.4" cy="327.6" r="5.35"/><circle cx="469.4" cy="328.3" r="5.35"/><circle cx="472.6" cy="329.6" r="5.35"/><circle cx="478.9" cy="327.7" r="5.35"/><circle cx="484.5" cy="328.0" r="5.35"/><circle cx="488.8" cy="328.8" r="5.35"/><circle cx="493.2" cy="327.5" r="5.35"/><circle cx="498.0" cy="328.9" r="5.35"/><circle cx="502.9" cy="329.8" r="5.35"/><circle cx="509.6" cy="328.6" r="5.35"/><circle cx="460.4" cy="323.5" r="5.35"/><circle cx="465.9" cy="324.5" r="5.35"/><circle cx="471.0" cy="324.7" r="5.35"/><circle cx="476.4" cy="324.1" r="5.35"/><circle cx="481.2" cy="324.2" r="5.35"/><circle cx="485.5" cy="323.3" r="5.35"/><circle cx="492.1" cy="325.2" r="5.35"/><circle cx="495.4" cy="325.1" r="5.35"/><circle cx="501.1" cy="323.8" r="5.35"/><circle cx="507.2" cy="325.5" r="5.35"/><circle cx="463.4" cy="320.5" r="5.35"/><circle cx="468.6" cy="319.1" r="5.35"/><circle cx="473.6" cy="320.6" r="5.35"/><circle cx="477.5" cy="319.9" r="5.35"/><circle cx="482.9" cy="321.1" r="5.35"/><circle cx="488.7" cy="319.0" r="5.35"/><circle cx="493.8" cy="320.3" r="5.35"/><circle cx="499.5" cy="319.8" r="5.35"/><circle cx="503.6" cy="320.2" r="5.35"/><circle cx="507.8" cy="318.9" r="5.35"/><circle cx="459.9" cy="315.7" r="5.35"/><circle cx="466.7" cy="314.8" r="5.35"/><circle cx="471.9" cy="314.6" r="5.35"/><circle cx="476.5" cy="315.8" r="5.35"/><circle cx="480.1" cy="315.8" r="5.35"/><circle cx="486.9" cy="315.0" r="5.35"/><circle cx="489.9" cy="315.9" r="5.35"/><circle cx="495.9" cy="315.4" r="5.35"/><circle cx="500.2" cy="316.2" r="5.35"/><circle cx="506.3" cy="316.4" r="5.35"/><circle cx="464.3" cy="310.9" r="5.35"/><circle cx="469.5" cy="312.4" r="5.35"/><circle cx="472.9" cy="312.3" r="5.35"/><circle cx="479.4" cy="310.8" r="5.35"/><circle cx="482.9" cy="311.7" r="5.35"/><circle cx="488.6" cy="310.3" r="5.35"/><circle cx="494.5" cy="311.9" r="5.35"/><circle cx="498.0" cy="311.9" r="5.35"/><circle cx="504.7" cy="312.2" r="5.35"/><circle cx="509.0" cy="311.0" r="5.35"/><circle cx="461.6" cy="306.8" r="5.35"/><circle cx="465.1" cy="307.8" r="5.35"/><circle cx="471.9" cy="307.4" r="5.35"/><circle cx="476.0" cy="305.9" r="5.35"/><circle cx="481.2" cy="306.1" r="5.35"/><circle cx="490.8" cy="307.0" r="5.35"/><circle cx="500.1" cy="306.0" r="5.35"/><circle cx="506.3" cy="307.2" r="5.35"/><circle cx="463.0" cy="302.8" r="5.35"/><circle cx="469.3" cy="301.6" r="5.35"/><circle cx="472.7" cy="303.1" r="5.35"/><circle cx="479.6" cy="303.5" r="5.35"/><circle cx="483.9" cy="303.5" r="5.35"/><circle cx="488.4" cy="303.2" r="5.35"/><circle cx="497.4" cy="302.7" r="5.35"/><circle cx="504.1" cy="303.7" r="5.35"/><circle cx="509.3" cy="301.9" r="5.35"/><circle cx="461.7" cy="298.0" r="5.35"/><circle cx="466.4" cy="299.2" r="5.35"/><circle cx="471.3" cy="297.8" r="5.35"/><circle cx="475.0" cy="297.1" r="5.35"/><circle cx="480.5" cy="298.3" r="5.35"/><circle cx="486.8" cy="299.1" r="5.35"/><circle cx="491.3" cy="299.1" r="5.35"/><circle cx="496.2" cy="299.4" r="5.35"/><circle cx="506.8" cy="297.8" r="5.35"/><circle cx="469.2" cy="293.0" r="5.35"/><circle cx="472.7" cy="293.3" r="5.35"/><circle cx="484.4" cy="294.1" r="5.35"/><circle cx="489.5" cy="293.2" r="5.35"/><circle cx="503.5" cy="294.6" r="5.35"/><circle cx="507.5" cy="292.8" r="5.35"/><circle cx="461.1" cy="290.0" r="5.35"/><circle cx="464.8" cy="290.6" r="5.35"/><circle cx="471.1" cy="288.8" r="5.35"/><circle cx="480.4" cy="289.1" r="5.35"/><circle cx="505.4" cy="290.4" r="5.35"/><circle cx="462.8" cy="286.1" r="5.35"/><circle cx="468.9" cy="285.6" r="5.35"/><circle cx="474.6" cy="284.0" r="5.35"/><circle cx="461.9" cy="280.9" r="5.35"/><circle cx="465.5" cy="280.0" r="5.35"/><circle cx="470.7" cy="281.8" r="5.35"/><circle cx="486.1" cy="175.2" r="5.35"/><circle cx="485.7" cy="210.1" r="5.35"/><circle cx="496.5" cy="207.7" r="5.35"/><circle cx="499.7" cy="210.9" r="5.35"/><circle cx="512.6" cy="235" r="5.35"/><circle cx="506.1" cy="238.2" r="5.35"/><circle cx="508.5" cy="247" r="5.35"/><circle cx="510.1" cy="254.2" r="5.35"/><circle cx="505.3" cy="259.1" r="5.35"/><circle cx="502.1" cy="264.7" r="5.35"/><circle cx="495.7" cy="255" r="5.35"/><circle cx="472.4" cy="259.1" r="5.35"/><circle cx="470.1" cy="258.7" r="5.35"/><circle cx="477.2" cy="265.5" r="5.35"/><circle cx="463.5" cy="268.2" r="5.35"/><circle cx="490.9" cy="268.7" r="5.35"/><circle cx="496.4" cy="272.6" r="5.35"/><circle cx="495.7" cy="275.1" r="5.35"/><circle cx="483.9" cy="274" r="5.35"/><circle cx="470.1" cy="275.5" r="5.35"/><circle cx="496.4" cy="285" r="5.35"/><circle cx="506.9" cy="283.1" r="5.35"/><circle cx="493.3" cy="294.4" r="5.35"/></g>
<path d="M467.5,291.5 Q473,288.5 479.2,291.5 L477.5,294.4 Q472.5,292.3 468.5,294Z" fill="#fff"/>
<path d="M484,298.5 Q489,296.5 494.4,298.5 L491,304.9 Q487,303 484,298.5Z" fill="#ABABFF"/>
<g fill="#27408B"><circle cx="518.9" cy="332.3" r="5.35"/><circle cx="518.6" cy="329.6" r="5.35"/><circle cx="515.2" cy="323.6" r="5.35"/><circle cx="520.1" cy="323.5" r="5.35"/><circle cx="517.5" cy="318.9" r="5.35"/><circle cx="515.9" cy="314.4" r="5.35"/><circle cx="520.8" cy="314.5" r="5.35"/><circle cx="517.4" cy="310.5" r="5.35"/><circle cx="515.2" cy="307.6" r="5.35"/><circle cx="521.1" cy="307.3" r="5.35"/><circle cx="516.5" cy="302.2" r="5.35"/><circle cx="515.0" cy="297.9" r="5.35"/><circle cx="520.2" cy="299.0" r="5.35"/><circle cx="518.6" cy="293.5" r="5.35"/><circle cx="515.2" cy="289.2" r="5.35"/><circle cx="519.1" cy="289.9" r="5.35"/><circle cx="518.2" cy="284.1" r="5.35"/><circle cx="518.6" cy="276.3" r="5.35"/><circle cx="516.2" cy="226.9" r="5.35"/><circle cx="518.2" cy="246.2" r="5.35"/><circle cx="524.6" cy="244.6" r="5.35"/><circle cx="516.6" cy="271.9" r="5.35"/><circle cx="524.6" cy="276.7" r="5.35"/><circle cx="514.2" cy="284.7" r="5.35"/></g>
<g fill="#B22222"><circle cx="541.1" cy="332.2" r="5.35"/><circle cx="529.5" cy="328.4" r="5.35"/><circle cx="533.9" cy="328.1" r="5.35"/><circle cx="538.5" cy="329.0" r="5.35"/><circle cx="543.8" cy="329.2" r="5.35"/><circle cx="549.2" cy="329.0" r="5.35"/><circle cx="526.9" cy="325.0" r="5.35"/><circle cx="532.4" cy="325.1" r="5.35"/><circle cx="537.2" cy="325.3" r="5.35"/><circle cx="540.8" cy="323.2" r="5.35"/><circle cx="547.1" cy="324.6" r="5.35"/><circle cx="528.3" cy="320.8" r="5.35"/><circle cx="535.6" cy="319.6" r="5.35"/><circle cx="540.0" cy="318.8" r="5.35"/><circle cx="544.2" cy="321.1" r="5.35"/><circle cx="549.2" cy="319.2" r="5.35"/><circle cx="527.1" cy="315.9" r="5.35"/><circle cx="532.8" cy="314.9" r="5.35"/><circle cx="537.4" cy="316.7" r="5.35"/><circle cx="542.8" cy="315.9" r="5.35"/><circle cx="546.8" cy="315.6" r="5.35"/><circle cx="529.1" cy="312.3" r="5.35"/><circle cx="535.3" cy="311.8" r="5.35"/><circle cx="539.3" cy="312.1" r="5.35"/><circle cx="544.5" cy="311.3" r="5.35"/><circle cx="550.7" cy="311.8" r="5.35"/><circle cx="526.6" cy="307.4" r="5.35"/><circle cx="532.1" cy="306.4" r="5.35"/><circle cx="537.1" cy="307.8" r="5.35"/><circle cx="541.3" cy="305.7" r="5.35"/><circle cx="546.4" cy="307.8" r="5.35"/><circle cx="530.7" cy="303.3" r="5.35"/><circle cx="533.3" cy="303.3" r="5.35"/><circle cx="538.7" cy="302.3" r="5.35"/><circle cx="543.5" cy="302.7" r="5.35"/><circle cx="550.2" cy="301.5" r="5.35"/><circle cx="526.9" cy="298.8" r="5.35"/><circle cx="537.9" cy="299.2" r="5.35"/><circle cx="541.0" cy="299.0" r="5.35"/><circle cx="530.0" cy="294.4" r="5.35"/><circle cx="533.9" cy="293.0" r="5.35"/><circle cx="540.6" cy="295.0" r="5.35"/><circle cx="536.3" cy="290.6" r="5.35"/><circle cx="533.4" cy="264.7" r="5.35"/><circle cx="535.8" cy="268.7" r="5.35"/><circle cx="536.6" cy="286.4" r="5.35"/><circle cx="554.3" cy="291.2" r="5.35"/><circle cx="529.4" cy="291.2" r="5.35"/></g>
<g fill="#556B2F"><circle cx="556.8" cy="332.1" r="5.35"/><circle cx="564.9" cy="332.0" r="5.35"/><circle cx="559.2" cy="329.7" r="5.35"/><circle cx="563.4" cy="327.9" r="5.35"/><circle cx="567.4" cy="328.1" r="5.35"/><circle cx="573.3" cy="328.8" r="5.35"/><circle cx="579.6" cy="329.7" r="5.35"/><circle cx="583.2" cy="327.7" r="5.35"/><circle cx="587.9" cy="329.2" r="5.35"/><circle cx="556.4" cy="323.2" r="5.35"/><circle cx="561.3" cy="323.8" r="5.35"/><circle cx="566.9" cy="325.3" r="5.35"/><circle cx="570.9" cy="324.5" r="5.35"/><circle cx="575.6" cy="325.2" r="5.35"/><circle cx="581.5" cy="324.9" r="5.35"/><circle cx="586.8" cy="324.2" r="5.35"/><circle cx="591.4" cy="324.1" r="5.35"/><circle cx="559.4" cy="321.1" r="5.35"/><circle cx="564.5" cy="320.6" r="5.35"/><circle cx="569.1" cy="319.6" r="5.35"/><circle cx="578.5" cy="320.2" r="5.35"/><circle cx="582.7" cy="320.1" r="5.35"/><circle cx="588.7" cy="321.1" r="5.35"/><circle cx="556.4" cy="316.3" r="5.35"/><circle cx="562.1" cy="315.4" r="5.35"/><circle cx="572.0" cy="316.6" r="5.35"/><circle cx="576.0" cy="315.9" r="5.35"/><circle cx="582.1" cy="315.3" r="5.35"/><circle cx="586.6" cy="316.3" r="5.35"/><circle cx="590.2" cy="315.9" r="5.35"/><circle cx="558.0" cy="310.7" r="5.35"/><circle cx="562.6" cy="311.7" r="5.35"/><circle cx="567.6" cy="312.3" r="5.35"/><circle cx="574.2" cy="310.1" r="5.35"/><circle cx="579.3" cy="310.3" r="5.35"/><circle cx="583.9" cy="310.2" r="5.35"/><circle cx="589.3" cy="310.3" r="5.35"/><circle cx="561.3" cy="307.7" r="5.35"/><circle cx="570.2" cy="307.7" r="5.35"/><circle cx="586.7" cy="305.8" r="5.35"/><circle cx="591.2" cy="305.9" r="5.35"/><circle cx="569.6" cy="303.2" r="5.35"/><circle cx="588.2" cy="303.1" r="5.35"/><circle cx="580.4" cy="299.0" r="5.35"/><circle cx="585.1" cy="298.6" r="5.35"/><circle cx="591.3" cy="297.3" r="5.35"/><circle cx="591.8" cy="233.4" r="5.35"/><circle cx="575.7" cy="261.1" r="5.35"/><circle cx="589.7" cy="263.6" r="5.35"/><circle cx="570.9" cy="271.1" r="5.35"/><circle cx="584.7" cy="274.9" r="5.35"/><circle cx="586.5" cy="285.6" r="5.35"/><circle cx="593.7" cy="277.5" r="5.35"/><circle cx="580.1" cy="292.8" r="5.35"/><circle cx="593.7" cy="292.8" r="5.35"/><circle cx="564.8" cy="296.8" r="5.35"/><circle cx="567.2" cy="302.4" r="5.35"/><circle cx="579.3" cy="300.8" r="5.35"/><circle cx="588.1" cy="304" r="5.35"/></g>
<path d="M571.4,306 Q577,303.5 585.4,305.5 Q582,310.7 578,310.5 Q573,310 571.4,306Z" fill="#fff"/>
<g fill="#00FA9A"><circle cx="604.3" cy="332.3" r="5.35"/><circle cx="601.9" cy="328.3" r="5.35"/><circle cx="601.2" cy="325.0" r="5.35"/><circle cx="605.6" cy="323.3" r="5.35"/><circle cx="602.0" cy="319.3" r="5.35"/><circle cx="599.1" cy="316.0" r="5.35"/><circle cx="605.4" cy="316.3" r="5.35"/><circle cx="602.0" cy="312.1" r="5.35"/><circle cx="600.6" cy="307.1" r="5.35"/><circle cx="604.3" cy="307.9" r="5.35"/><circle cx="602.7" cy="301.4" r="5.35"/><circle cx="601.1" cy="298.9" r="5.35"/><circle cx="604.4" cy="299.2" r="5.35"/><circle cx="603.0" cy="294.3" r="5.35"/><circle cx="606.0" cy="289.1" r="5.35"/><circle cx="603.2" cy="284.8" r="5.35"/><circle cx="604.5" cy="280.4" r="5.35"/><circle cx="600.5" cy="235.8" r="5.35"/><circle cx="608.5" cy="248.6" r="5.35"/><circle cx="599.3" cy="271.6" r="5.35"/><circle cx="607.5" cy="272.8" r="5.35"/><circle cx="597" cy="281.5" r="5.35"/><circle cx="605.2" cy="283.9" r="5.35"/><circle cx="599.3" cy="289.7" r="5.35"/><circle cx="607.5" cy="289.7" r="5.35"/><circle cx="599.3" cy="299" r="5.35"/><circle cx="601.7" cy="307.2" r="5.35"/><circle cx="607.5" cy="313" r="5.35"/><circle cx="594.7" cy="324.7" r="5.35"/><circle cx="602.8" cy="327.1" r="5.35"/><circle cx="607.5" cy="330.6" r="5.35"/><circle cx="596" cy="330" r="5.35"/></g>
<path d="M593.5,305 Q598,306 600.5,312 Q600,319 596,322.4 Q593.5,318 593.5,305Z" fill="#fff"/>
<ellipse cx="607.5" cy="302" rx="2.6" ry="2.5" fill="#fff"/>
<ellipse cx="607" cy="321.8" rx="2.3" ry="2.6" fill="#fff"/>
<g fill="#A020F0"><circle cx="618.8" cy="328.6" r="5.35"/><circle cx="616.5" cy="323.2" r="5.35"/><circle cx="620.6" cy="319.2" r="5.35"/><circle cx="617.7" cy="315.7" r="5.35"/><circle cx="619.3" cy="311.5" r="5.35"/><circle cx="616.2" cy="307.1" r="5.35"/><circle cx="619.4" cy="303.6" r="5.35"/><circle cx="616.8" cy="298.9" r="5.35"/><circle cx="620.5" cy="294.2" r="5.35"/><circle cx="616.5" cy="289.6" r="5.35"/><circle cx="619.0" cy="285.8" r="5.35"/><circle cx="617.4" cy="280.3" r="5.35"/><circle cx="619.4" cy="238.2" r="5.35"/><circle cx="618.1" cy="244.6" r="5.35"/><circle cx="615.1" cy="269.3" r="5.35"/><circle cx="621.5" cy="275.1" r="5.35"/><circle cx="614" cy="279" r="5.35"/><circle cx="618" cy="285" r="5.35"/><circle cx="614.5" cy="300" r="5.35"/><circle cx="614.5" cy="320" r="5.35"/></g>
<g fill="#7F7F7F"><circle cx="638.0" cy="332.4" r="5.35"/><circle cx="643.7" cy="332.6" r="5.35"/><circle cx="658.0" cy="332.2" r="5.35"/><circle cx="629.4" cy="328.8" r="5.35"/><circle cx="635.1" cy="328.7" r="5.35"/><circle cx="640.3" cy="327.7" r="5.35"/><circle cx="646.0" cy="327.8" r="5.35"/><circle cx="649.9" cy="328.3" r="5.35"/><circle cx="656.0" cy="328.7" r="5.35"/><circle cx="626.8" cy="324.2" r="5.35"/><circle cx="633.7" cy="324.9" r="5.35"/><circle cx="638.3" cy="323.6" r="5.35"/><circle cx="642.5" cy="323.5" r="5.35"/><circle cx="647.7" cy="325.4" r="5.35"/><circle cx="653.4" cy="324.0" r="5.35"/><circle cx="659.0" cy="325.5" r="5.35"/><circle cx="630.7" cy="319.9" r="5.35"/><circle cx="635.5" cy="319.0" r="5.35"/><circle cx="640.3" cy="320.3" r="5.35"/><circle cx="644.9" cy="321.0" r="5.35"/><circle cx="650.5" cy="318.9" r="5.35"/><circle cx="627.5" cy="315.0" r="5.35"/><circle cx="633.3" cy="316.2" r="5.35"/><circle cx="637.5" cy="315.1" r="5.35"/><circle cx="642.2" cy="315.0" r="5.35"/><circle cx="646.9" cy="315.4" r="5.35"/><circle cx="653.0" cy="314.4" r="5.35"/><circle cx="631.0" cy="310.2" r="5.35"/><circle cx="635.9" cy="311.6" r="5.35"/><circle cx="641.0" cy="310.6" r="5.35"/><circle cx="644.3" cy="310.1" r="5.35"/><circle cx="629.0" cy="306.6" r="5.35"/><circle cx="632.2" cy="305.9" r="5.35"/><circle cx="638.1" cy="307.7" r="5.35"/><circle cx="647.4" cy="306.4" r="5.35"/><circle cx="631.0" cy="302.6" r="5.35"/><circle cx="636.4" cy="302.6" r="5.35"/><circle cx="639.8" cy="301.8" r="5.35"/><circle cx="644.7" cy="302.9" r="5.35"/><circle cx="628.5" cy="299.3" r="5.35"/><circle cx="638.3" cy="297.7" r="5.35"/><circle cx="643.9" cy="298.2" r="5.35"/><circle cx="631.4" cy="292.7" r="5.35"/><circle cx="634.3" cy="294.3" r="5.35"/><circle cx="634.5" cy="284.8" r="5.35"/><circle cx="652.3" cy="223.7" r="5.35"/><circle cx="656" cy="231.8" r="5.35"/><circle cx="645.6" cy="239" r="5.35"/><circle cx="645.1" cy="257.4" r="5.35"/><circle cx="652.3" cy="256.6" r="5.35"/><circle cx="646.7" cy="262.3" r="5.35"/><circle cx="653.9" cy="263.1" r="5.35"/><circle cx="635.2" cy="276.7" r="5.35"/><circle cx="629.9" cy="284.7" r="5.35"/><circle cx="641.1" cy="288" r="5.35"/><circle cx="649.9" cy="292.8" r="5.35"/><circle cx="659.6" cy="300" r="5.35"/><circle cx="627.4" cy="294.4" r="5.35"/></g>
<path d="M639,301.4 Q642.5,296 646,301.4 Q642.5,299.5 639,301.4Z" fill="#ABABFF"/>
<line x1="98" y1="69.5" x2="98" y2="338.3" stroke="#000" stroke-width="2.8"/>
<line x1="96.6" y1="337.0" x2="665.5" y2="337.0" stroke="#000" stroke-width="2.6"/>
<line x1="90" y1="331.9" x2="98" y2="331.9" stroke="#000" stroke-width="2.8"/>
<text x="84.2" y="339.5" text-anchor="end" font-size="21">0</text>
<line x1="90" y1="203.4" x2="98" y2="203.4" stroke="#000" stroke-width="2.8"/>
<text x="84.2" y="211.0" text-anchor="end" font-size="21">5</text>
<line x1="90" y1="74.9" x2="98" y2="74.9" stroke="#000" stroke-width="2.8"/>
<text x="84.2" y="82.5" text-anchor="end" font-size="21">10</text>
<line x1="113.5" y1="337.0" x2="113.5" y2="345.0" stroke="#000" stroke-width="2.6"/>
<text transform="translate(120.8,349.5) rotate(-90)" text-anchor="end" font-size="20.7">Infectious diseases</text>
<line x1="147.1" y1="337.0" x2="147.1" y2="345.0" stroke="#000" stroke-width="2.6"/>
<text transform="translate(154.2,349.5) rotate(-90)" text-anchor="end" font-size="20.7">Neoplasms</text>
<line x1="193.8" y1="337.0" x2="193.8" y2="345.0" stroke="#000" stroke-width="2.6"/>
<text transform="translate(201.0,349.5) rotate(-90)" text-anchor="end" font-size="20.7">Endocrine/metabolic</text>
<line x1="228.2" y1="337.0" x2="228.2" y2="345.0" stroke="#000" stroke-width="2.6"/>
<text transform="translate(235.4,349.5) rotate(-90)" text-anchor="end" font-size="20.7">Hematopoietic</text>
<line x1="249.7" y1="337.0" x2="249.7" y2="345.0" stroke="#000" stroke-width="2.6"/>
<text transform="translate(256.9,349.5) rotate(-90)" text-anchor="end" font-size="20.7">Mental disorders</text>
<line x1="275.9" y1="337.0" x2="275.9" y2="345.0" stroke="#000" stroke-width="2.6"/>
<text transform="translate(283.1,349.5) rotate(-90)" text-anchor="end" font-size="20.7">Neurological</text>
<line x1="309.5" y1="337.0" x2="309.5" y2="345.0" stroke="#000" stroke-width="2.6"/>
<text transform="translate(316.7,349.5) rotate(-90)" text-anchor="end" font-size="20.7">Sense organs</text>
<line x1="355.8" y1="337.0" x2="355.8" y2="345.0" stroke="#000" stroke-width="2.6"/>
<text transform="translate(362.9,349.5) rotate(-90)" text-anchor="end" font-size="20.7">Circulatory system</text>
<line x1="394.4" y1="337.0" x2="394.4" y2="345.0" stroke="#000" stroke-width="2.6"/>
<text transform="translate(401.6,349.5) rotate(-90)" text-anchor="end" font-size="20.7">Respiratory</text>
<line x1="433.6" y1="337.0" x2="433.6" y2="345.0" stroke="#000" stroke-width="2.6"/>
<text transform="translate(440.8,349.5) rotate(-90)" text-anchor="end" font-size="20.7">Digestive</text>
<line x1="487.1" y1="337.0" x2="487.1" y2="345.0" stroke="#000" stroke-width="2.6"/>
<text transform="translate(494.2,349.5) rotate(-90)" text-anchor="end" font-size="20.7">Genitourinary</text>
<line x1="519.4" y1="337.0" x2="519.4" y2="345.0" stroke="#000" stroke-width="2.6"/>
<text transform="translate(526.6,349.5) rotate(-90)" text-anchor="end" font-size="20.7">Pregnancy complications</text>
<line x1="539.8" y1="337.0" x2="539.8" y2="345.0" stroke="#000" stroke-width="2.6"/>
<text transform="translate(547.0,349.5) rotate(-90)" text-anchor="end" font-size="20.7">Dermatologic</text>
<line x1="575.2" y1="337.0" x2="575.2" y2="345.0" stroke="#000" stroke-width="2.6"/>
<text transform="translate(582.4,349.5) rotate(-90)" text-anchor="end" font-size="20.7">Musculoskeletal</text>
<line x1="604.0" y1="337.0" x2="604.0" y2="345.0" stroke="#000" stroke-width="2.6"/>
<text transform="translate(611.2,349.5) rotate(-90)" text-anchor="end" font-size="20.7">Congenital anomalies</text>
<line x1="619.2" y1="337.0" x2="619.2" y2="345.0" stroke="#000" stroke-width="2.6"/>
<text transform="translate(626.5,349.5) rotate(-90)" text-anchor="end" font-size="20.7">Symptoms</text>
<line x1="642.7" y1="337.0" x2="642.7" y2="345.0" stroke="#000" stroke-width="2.6"/>
<text transform="translate(649.9,349.5) rotate(-90)" text-anchor="end" font-size="20.7">Injuries & poisonings</text>
<text x="383" y="44.7" text-anchor="middle" font-size="21" font-style="italic">YLPM1</text>
<text transform="translate(51.5,203.7) rotate(-90)" text-anchor="middle" font-size="21">-log<tspan font-size="11.5" dy="7">10</tspan><tspan dy="-7"> P</tspan></text>
<text x="416" y="96.8" font-size="14.8">Hereditary disturbances in tooth structure</text>
<text transform="translate(248,174.5) rotate(-45)" font-size="14.8">Altered mental status</text>
<text transform="translate(450,187.2) rotate(-45)" font-size="14.8">Cholelithiasis</text>
<line x1="109.3" y1="906.3" x2="676" y2="906.3" stroke="#ABABFF" stroke-width="5.5"/>
<line x1="109.3" y1="864.1" x2="676" y2="864.1" stroke="#FFA8A8" stroke-width="6.5"/>
<g fill="#0000FF"><circle cx="117.9" cy="923.0" r="5.35"/><circle cx="116.8" cy="919.8" r="5.35"/><circle cx="121.3" cy="919.4" r="5.35"/><circle cx="127.7" cy="920.7" r="5.35"/><circle cx="131.4" cy="919.1" r="5.35"/><circle cx="112.9" cy="915.2" r="5.35"/><circle cx="118.7" cy="916.2" r="5.35"/><circle cx="124.1" cy="914.7" r="5.35"/><circle cx="128.6" cy="914.4" r="5.35"/><circle cx="117.7" cy="911.4" r="5.35"/><circle cx="122.4" cy="911.7" r="5.35"/><circle cx="127.5" cy="911.6" r="5.35"/><circle cx="131.1" cy="912.1" r="5.35"/><circle cx="113.2" cy="907.2" r="5.35"/><circle cx="118.9" cy="906.7" r="5.35"/><circle cx="125.0" cy="906.6" r="5.35"/><circle cx="128.6" cy="907.5" r="5.35"/><circle cx="116.4" cy="902.4" r="5.35"/><circle cx="122.0" cy="902.2" r="5.35"/><circle cx="126.1" cy="902.7" r="5.35"/><circle cx="113.5" cy="899.0" r="5.35"/><circle cx="119.0" cy="897.9" r="5.35"/><circle cx="124.2" cy="897.4" r="5.35"/><circle cx="129.0" cy="898.9" r="5.35"/><circle cx="115.5" cy="894.3" r="5.35"/><circle cx="122.5" cy="892.8" r="5.35"/><circle cx="125.4" cy="893.9" r="5.35"/><circle cx="118.5" cy="853.2" r="5.35"/><circle cx="118.1" cy="870.2" r="5.35"/><circle cx="130.9" cy="870.2" r="5.35"/><circle cx="117.3" cy="877.2" r="5.35"/><circle cx="124.3" cy="880.7" r="5.35"/><circle cx="131.3" cy="881.6" r="5.35"/><circle cx="120.8" cy="888.6" r="5.35"/><circle cx="131.3" cy="892.1" r="5.35"/></g>
<g fill="#008B8B"><circle cx="140.8" cy="923.4" r="5.35"/><circle cx="145.9" cy="923.8" r="5.35"/><circle cx="148.9" cy="923.7" r="5.35"/><circle cx="155.4" cy="923.0" r="5.35"/><circle cx="163.9" cy="923.4" r="5.35"/><circle cx="169.2" cy="923.2" r="5.35"/><circle cx="137.2" cy="918.6" r="5.35"/><circle cx="141.7" cy="918.5" r="5.35"/><circle cx="147.8" cy="920.2" r="5.35"/><circle cx="152.1" cy="918.5" r="5.35"/><circle cx="158.1" cy="920.2" r="5.35"/><circle cx="163.1" cy="920.5" r="5.35"/><circle cx="167.4" cy="919.0" r="5.35"/><circle cx="172.1" cy="918.7" r="5.35"/><circle cx="135.9" cy="914.4" r="5.35"/><circle cx="139.7" cy="915.3" r="5.35"/><circle cx="146.1" cy="914.7" r="5.35"/><circle cx="149.8" cy="914.1" r="5.35"/><circle cx="154.1" cy="914.2" r="5.35"/><circle cx="159.2" cy="914.3" r="5.35"/><circle cx="165.0" cy="916.5" r="5.35"/><circle cx="171.2" cy="914.7" r="5.35"/><circle cx="136.9" cy="911.2" r="5.35"/><circle cx="143.2" cy="911.5" r="5.35"/><circle cx="147.3" cy="911.0" r="5.35"/><circle cx="151.4" cy="910.7" r="5.35"/><circle cx="158.0" cy="910.3" r="5.35"/><circle cx="161.7" cy="910.3" r="5.35"/><circle cx="167.5" cy="910.9" r="5.35"/><circle cx="172.8" cy="910.3" r="5.35"/><circle cx="139.8" cy="906.6" r="5.35"/><circle cx="143.9" cy="906.4" r="5.35"/><circle cx="149.2" cy="905.6" r="5.35"/><circle cx="154.7" cy="906.6" r="5.35"/><circle cx="160.3" cy="906.1" r="5.35"/><circle cx="164.7" cy="905.4" r="5.35"/><circle cx="169.0" cy="906.1" r="5.35"/><circle cx="147.5" cy="901.5" r="5.35"/><circle cx="151.5" cy="901.7" r="5.35"/><circle cx="158.5" cy="901.2" r="5.35"/><circle cx="161.8" cy="902.4" r="5.35"/><circle cx="167.4" cy="902.9" r="5.35"/><circle cx="171.6" cy="901.3" r="5.35"/><circle cx="150.7" cy="898.4" r="5.35"/><circle cx="154.7" cy="897.8" r="5.35"/><circle cx="159.4" cy="898.0" r="5.35"/><circle cx="170.8" cy="897.4" r="5.35"/><circle cx="173.7" cy="893.9" r="5.35"/><circle cx="155.8" cy="871.1" r="5.35"/><circle cx="165.4" cy="872.9" r="5.35"/><circle cx="166.3" cy="883.4" r="5.35"/><circle cx="169.8" cy="886.9" r="5.35"/><circle cx="153.2" cy="894.8" r="5.35"/><circle cx="143.5" cy="904.4" r="5.35"/></g>
<g fill="#A52A2A"><circle cx="211.5" cy="923.4" r="5.35"/><circle cx="184.2" cy="919.8" r="5.35"/><circle cx="188.4" cy="918.5" r="5.35"/><circle cx="194.4" cy="918.9" r="5.35"/><circle cx="198.5" cy="919.4" r="5.35"/><circle cx="204.5" cy="920.1" r="5.35"/><circle cx="209.6" cy="919.2" r="5.35"/><circle cx="213.9" cy="920.3" r="5.35"/><circle cx="217.8" cy="919.9" r="5.35"/><circle cx="223.9" cy="920.8" r="5.35"/><circle cx="179.8" cy="915.2" r="5.35"/><circle cx="186.9" cy="915.7" r="5.35"/><circle cx="189.8" cy="916.4" r="5.35"/><circle cx="196.3" cy="916.3" r="5.35"/><circle cx="200.0" cy="916.1" r="5.35"/><circle cx="205.3" cy="915.9" r="5.35"/><circle cx="210.3" cy="916.0" r="5.35"/><circle cx="216.3" cy="915.1" r="5.35"/><circle cx="221.2" cy="915.2" r="5.35"/><circle cx="184.6" cy="909.9" r="5.35"/><circle cx="188.5" cy="911.8" r="5.35"/><circle cx="194.1" cy="910.9" r="5.35"/><circle cx="198.1" cy="910.4" r="5.35"/><circle cx="202.4" cy="909.9" r="5.35"/><circle cx="207.7" cy="911.6" r="5.35"/><circle cx="213.3" cy="911.4" r="5.35"/><circle cx="219.4" cy="910.1" r="5.35"/><circle cx="223.2" cy="910.9" r="5.35"/><circle cx="179.8" cy="906.7" r="5.35"/><circle cx="185.7" cy="906.7" r="5.35"/><circle cx="190.9" cy="907.5" r="5.35"/><circle cx="196.4" cy="906.6" r="5.35"/><circle cx="202.0" cy="905.6" r="5.35"/><circle cx="205.5" cy="907.0" r="5.35"/><circle cx="211.4" cy="906.3" r="5.35"/><circle cx="215.0" cy="906.9" r="5.35"/><circle cx="221.1" cy="907.4" r="5.35"/><circle cx="183.8" cy="901.8" r="5.35"/><circle cx="188.4" cy="901.6" r="5.35"/><circle cx="194.6" cy="901.3" r="5.35"/><circle cx="198.2" cy="901.9" r="5.35"/><circle cx="202.5" cy="902.1" r="5.35"/><circle cx="208.4" cy="901.8" r="5.35"/><circle cx="214.5" cy="902.1" r="5.35"/><circle cx="219.5" cy="901.8" r="5.35"/><circle cx="181.4" cy="897.6" r="5.35"/><circle cx="186.7" cy="897.3" r="5.35"/><circle cx="191.3" cy="897.7" r="5.35"/><circle cx="206.6" cy="898.5" r="5.35"/><circle cx="215.5" cy="898.2" r="5.35"/><circle cx="220.7" cy="897.6" r="5.35"/><circle cx="184.6" cy="893.2" r="5.35"/><circle cx="213.3" cy="893.7" r="5.35"/><circle cx="219.3" cy="893.3" r="5.35"/><circle cx="220.1" cy="890.0" r="5.35"/><circle cx="187" cy="663.5" r="5.35"/><circle cx="189.1" cy="678" r="5.35"/><circle cx="183.2" cy="732.2" r="5.35"/><circle cx="184.2" cy="730.6" r="5.35"/><circle cx="182" cy="827.4" r="5.35"/><circle cx="187.5" cy="840.4" r="5.35"/><circle cx="186.2" cy="855.4" r="5.35"/><circle cx="193.9" cy="861.3" r="5.35"/><circle cx="223.2" cy="846.6" r="5.35"/><circle cx="183.8" cy="877" r="5.35"/><circle cx="190.2" cy="875.3" r="5.35"/><circle cx="191.6" cy="881.4" r="5.35"/><circle cx="182.5" cy="888" r="5.35"/><circle cx="202.6" cy="888.4" r="5.35"/><circle cx="210" cy="889.7" r="5.35"/><circle cx="221" cy="878" r="5.35"/><circle cx="227.6" cy="876.9" r="5.35"/><circle cx="221.4" cy="883.9" r="5.35"/></g>
<g fill="#FF7F00"><circle cx="231.7" cy="923.1" r="5.35"/><circle cx="236.8" cy="923.6" r="5.35"/><circle cx="241.3" cy="923.7" r="5.35"/><circle cx="233.2" cy="919.6" r="5.35"/><circle cx="238.1" cy="920.5" r="5.35"/><circle cx="231.2" cy="915.4" r="5.35"/><circle cx="237.2" cy="916.1" r="5.35"/><circle cx="240.8" cy="915.4" r="5.35"/><circle cx="232.6" cy="912.1" r="5.35"/><circle cx="239.5" cy="911.4" r="5.35"/><circle cx="230.0" cy="906.1" r="5.35"/><circle cx="234.8" cy="905.7" r="5.35"/><circle cx="240.2" cy="905.8" r="5.35"/><circle cx="232.5" cy="903.4" r="5.35"/><circle cx="237.4" cy="903.2" r="5.35"/><circle cx="231.0" cy="898.0" r="5.35"/><circle cx="236.0" cy="896.8" r="5.35"/><circle cx="233.6" cy="894.0" r="5.35"/><circle cx="237.6" cy="893.5" r="5.35"/><circle cx="230.1" cy="888.3" r="5.35"/><circle cx="230.4" cy="819.1" r="5.35"/><circle cx="230.4" cy="825.2" r="5.35"/><circle cx="232.8" cy="882.1" r="5.35"/><circle cx="236.3" cy="885.6" r="5.35"/></g>
<g fill="#FF00FF"><circle cx="260.0" cy="923.2" r="5.35"/><circle cx="250.8" cy="919.4" r="5.35"/><circle cx="256.3" cy="919.5" r="5.35"/><circle cx="262.2" cy="920.4" r="5.35"/><circle cx="266.4" cy="919.1" r="5.35"/><circle cx="250.2" cy="914.6" r="5.35"/><circle cx="254.5" cy="915.7" r="5.35"/><circle cx="259.1" cy="914.6" r="5.35"/><circle cx="264.2" cy="915.6" r="5.35"/><circle cx="252.1" cy="911.4" r="5.35"/><circle cx="255.4" cy="911.6" r="5.35"/><circle cx="262.3" cy="911.2" r="5.35"/><circle cx="265.8" cy="910.0" r="5.35"/><circle cx="249.1" cy="905.8" r="5.35"/><circle cx="255.1" cy="907.6" r="5.35"/><circle cx="258.5" cy="905.9" r="5.35"/><circle cx="264.5" cy="906.1" r="5.35"/><circle cx="251.7" cy="902.0" r="5.35"/><circle cx="257.0" cy="902.1" r="5.35"/><circle cx="260.6" cy="902.7" r="5.35"/><circle cx="267.5" cy="901.6" r="5.35"/><circle cx="249.1" cy="897.6" r="5.35"/><circle cx="255.0" cy="897.2" r="5.35"/><circle cx="259.5" cy="898.6" r="5.35"/><circle cx="263.9" cy="897.5" r="5.35"/><circle cx="250.9" cy="892.8" r="5.35"/><circle cx="255.8" cy="893.5" r="5.35"/><circle cx="261.0" cy="892.8" r="5.35"/><circle cx="267.4" cy="892.9" r="5.35"/><circle cx="266.1" cy="861.1" r="5.35"/><circle cx="271.4" cy="865.5" r="5.35"/><circle cx="260" cy="869" r="5.35"/><circle cx="248.6" cy="876.9" r="5.35"/><circle cx="250.3" cy="886.5" r="5.35"/><circle cx="260" cy="885.6" r="5.35"/></g>
<g fill="#000080"><circle cx="278.4" cy="923.5" r="5.35"/><circle cx="283.8" cy="923.5" r="5.35"/><circle cx="288.9" cy="923.3" r="5.35"/><circle cx="275.1" cy="919.1" r="5.35"/><circle cx="280.1" cy="919.5" r="5.35"/><circle cx="286.3" cy="918.5" r="5.35"/><circle cx="289.6" cy="918.8" r="5.35"/><circle cx="272.7" cy="914.3" r="5.35"/><circle cx="279.0" cy="915.6" r="5.35"/><circle cx="283.7" cy="916.3" r="5.35"/><circle cx="287.5" cy="916.4" r="5.35"/><circle cx="274.8" cy="911.4" r="5.35"/><circle cx="280.7" cy="911.4" r="5.35"/><circle cx="284.9" cy="910.3" r="5.35"/><circle cx="290.9" cy="910.1" r="5.35"/><circle cx="272.7" cy="906.4" r="5.35"/><circle cx="277.7" cy="906.5" r="5.35"/><circle cx="282.3" cy="905.9" r="5.35"/><circle cx="288.8" cy="905.6" r="5.35"/><circle cx="275.9" cy="901.2" r="5.35"/><circle cx="280.3" cy="902.3" r="5.35"/><circle cx="285.5" cy="902.3" r="5.35"/><circle cx="290.7" cy="902.7" r="5.35"/><circle cx="272.3" cy="896.8" r="5.35"/><circle cx="277.1" cy="897.0" r="5.35"/><circle cx="283.1" cy="898.2" r="5.35"/><circle cx="289.1" cy="896.9" r="5.35"/><circle cx="274.5" cy="894.0" r="5.35"/><circle cx="279.6" cy="893.1" r="5.35"/><circle cx="285.4" cy="894.6" r="5.35"/><circle cx="290.1" cy="894.6" r="5.35"/><circle cx="273.5" cy="841.3" r="5.35"/><circle cx="286.4" cy="849" r="5.35"/><circle cx="287" cy="864.5" r="5.35"/><circle cx="274" cy="877.7" r="5.35"/><circle cx="289.2" cy="877.4" r="5.35"/><circle cx="294.9" cy="878.8" r="5.35"/><circle cx="273.1" cy="885.6" r="5.35"/><circle cx="280.1" cy="889.1" r="5.35"/></g>
<g fill="#698B69"><circle cx="305.8" cy="922.8" r="5.35"/><circle cx="315.9" cy="923.0" r="5.35"/><circle cx="320.3" cy="923.8" r="5.35"/><circle cx="325.7" cy="923.2" r="5.35"/><circle cx="303.3" cy="920.1" r="5.35"/><circle cx="308.5" cy="918.5" r="5.35"/><circle cx="313.2" cy="920.6" r="5.35"/><circle cx="318.5" cy="918.7" r="5.35"/><circle cx="321.5" cy="919.0" r="5.35"/><circle cx="326.3" cy="919.4" r="5.35"/><circle cx="332.0" cy="920.0" r="5.35"/><circle cx="300.0" cy="915.4" r="5.35"/><circle cx="306.0" cy="914.4" r="5.35"/><circle cx="309.9" cy="915.0" r="5.35"/><circle cx="315.2" cy="915.3" r="5.35"/><circle cx="319.8" cy="916.4" r="5.35"/><circle cx="325.4" cy="914.5" r="5.35"/><circle cx="329.1" cy="914.9" r="5.35"/><circle cx="303.0" cy="912.1" r="5.35"/><circle cx="307.7" cy="910.4" r="5.35"/><circle cx="312.4" cy="910.8" r="5.35"/><circle cx="316.8" cy="911.6" r="5.35"/><circle cx="323.3" cy="911.2" r="5.35"/><circle cx="327.0" cy="911.8" r="5.35"/><circle cx="332.6" cy="911.1" r="5.35"/><circle cx="299.4" cy="907.1" r="5.35"/><circle cx="305.8" cy="906.5" r="5.35"/><circle cx="310.1" cy="906.7" r="5.35"/><circle cx="316.1" cy="907.2" r="5.35"/><circle cx="320.0" cy="907.6" r="5.35"/><circle cx="325.4" cy="907.7" r="5.35"/><circle cx="330.2" cy="906.9" r="5.35"/><circle cx="303.6" cy="903.4" r="5.35"/><circle cx="307.8" cy="902.9" r="5.35"/><circle cx="312.2" cy="903.0" r="5.35"/><circle cx="316.7" cy="902.6" r="5.35"/><circle cx="327" cy="866.6" r="5.35"/><circle cx="334.3" cy="878.8" r="5.35"/><circle cx="333.4" cy="887.6" r="5.35"/><circle cx="301" cy="886.7" r="5.35"/><circle cx="308" cy="883.2" r="5.35"/><circle cx="315" cy="882.3" r="5.35"/><circle cx="320.3" cy="885.8" r="5.35"/><circle cx="318.5" cy="892.9" r="5.35"/><circle cx="308" cy="891.1" r="5.35"/></g>
<g fill="#FF0000"><circle cx="350.4" cy="923.8" r="5.35"/><circle cx="354.9" cy="923.1" r="5.35"/><circle cx="365.6" cy="923.2" r="5.35"/><circle cx="369.6" cy="923.0" r="5.35"/><circle cx="379.9" cy="923.0" r="5.35"/><circle cx="383.9" cy="924.0" r="5.35"/><circle cx="341.4" cy="919.2" r="5.35"/><circle cx="348.5" cy="920.8" r="5.35"/><circle cx="352.8" cy="919.8" r="5.35"/><circle cx="357.8" cy="918.8" r="5.35"/><circle cx="363.3" cy="919.8" r="5.35"/><circle cx="367.4" cy="919.1" r="5.35"/><circle cx="372.7" cy="919.0" r="5.35"/><circle cx="378.7" cy="918.9" r="5.35"/><circle cx="383.2" cy="920.2" r="5.35"/><circle cx="387.7" cy="919.0" r="5.35"/><circle cx="340.2" cy="915.3" r="5.35"/><circle cx="344.8" cy="915.2" r="5.35"/><circle cx="349.2" cy="914.6" r="5.35"/><circle cx="356.0" cy="916.1" r="5.35"/><circle cx="360.7" cy="914.4" r="5.35"/><circle cx="365.5" cy="914.1" r="5.35"/><circle cx="370.7" cy="914.6" r="5.35"/><circle cx="374.7" cy="916.1" r="5.35"/><circle cx="380.9" cy="914.8" r="5.35"/><circle cx="384.9" cy="914.4" r="5.35"/><circle cx="341.7" cy="911.7" r="5.35"/><circle cx="347.4" cy="912.1" r="5.35"/><circle cx="351.7" cy="910.9" r="5.35"/><circle cx="358.2" cy="911.0" r="5.35"/><circle cx="362.0" cy="909.8" r="5.35"/><circle cx="366.8" cy="910.8" r="5.35"/><circle cx="372.7" cy="910.9" r="5.35"/><circle cx="376.4" cy="910.6" r="5.35"/><circle cx="381.7" cy="910.3" r="5.35"/><circle cx="387.8" cy="911.7" r="5.35"/><circle cx="340.8" cy="905.8" r="5.35"/><circle cx="343.9" cy="905.7" r="5.35"/><circle cx="350.7" cy="906.6" r="5.35"/><circle cx="356.1" cy="907.7" r="5.35"/><circle cx="359.6" cy="907.7" r="5.35"/><circle cx="364.3" cy="906.7" r="5.35"/><circle cx="368.8" cy="906.9" r="5.35"/><circle cx="375.9" cy="907.2" r="5.35"/><circle cx="380.6" cy="907.8" r="5.35"/><circle cx="385.0" cy="906.1" r="5.35"/><circle cx="342.8" cy="903.4" r="5.35"/><circle cx="348.3" cy="903.2" r="5.35"/><circle cx="353.3" cy="901.4" r="5.35"/><circle cx="357.7" cy="903.2" r="5.35"/><circle cx="361.5" cy="903.3" r="5.35"/><circle cx="372.1" cy="901.3" r="5.35"/><circle cx="377.3" cy="902.0" r="5.35"/><circle cx="383.3" cy="901.9" r="5.35"/><circle cx="345.4" cy="896.8" r="5.35"/><circle cx="349.7" cy="897.7" r="5.35"/><circle cx="354.3" cy="897.3" r="5.35"/><circle cx="375.3" cy="898.4" r="5.35"/><circle cx="379.6" cy="897.9" r="5.35"/><circle cx="384.9" cy="897.7" r="5.35"/><circle cx="347.2" cy="893.7" r="5.35"/><circle cx="351.9" cy="893.7" r="5.35"/><circle cx="377.0" cy="893.4" r="5.35"/><circle cx="382.3" cy="894.0" r="5.35"/><circle cx="386.8" cy="892.4" r="5.35"/><circle cx="349.4" cy="888.6" r="5.35"/><circle cx="379.5" cy="889.4" r="5.35"/><circle cx="385.2" cy="888.8" r="5.35"/><circle cx="350.1" cy="851.7" r="5.35"/><circle cx="349.2" cy="879.7" r="5.35"/><circle cx="340.4" cy="894.6" r="5.35"/><circle cx="365.8" cy="879.7" r="5.35"/><circle cx="363.2" cy="887.6" r="5.35"/><circle cx="377.2" cy="870.1" r="5.35"/><circle cx="383.4" cy="865.7" r="5.35"/><circle cx="391.2" cy="871" r="5.35"/><circle cx="379" cy="880.6" r="5.35"/><circle cx="385.1" cy="885.8" r="5.35"/><circle cx="378.1" cy="893.7" r="5.35"/><circle cx="350.3" cy="887.3" r="5.35"/><circle cx="362" cy="887.3" r="5.35"/><circle cx="378.8" cy="880.8" r="5.35"/><circle cx="383.2" cy="885.1" r="5.35"/><circle cx="377.3" cy="868.4" r="5.35"/><circle cx="391.2" cy="876.4" r="5.35"/></g>
<g fill="#8B4C39"><circle cx="397.9" cy="923.9" r="5.35"/><circle cx="411.2" cy="923.3" r="5.35"/><circle cx="395.1" cy="920.8" r="5.35"/><circle cx="400.6" cy="920.6" r="5.35"/><circle cx="405.4" cy="918.8" r="5.35"/><circle cx="410.3" cy="918.8" r="5.35"/><circle cx="415.1" cy="920.1" r="5.35"/><circle cx="392.7" cy="914.2" r="5.35"/><circle cx="398.0" cy="915.4" r="5.35"/><circle cx="403.2" cy="915.8" r="5.35"/><circle cx="408.0" cy="916.3" r="5.35"/><circle cx="412.8" cy="915.3" r="5.35"/><circle cx="394.0" cy="910.4" r="5.35"/><circle cx="399.8" cy="910.7" r="5.35"/><circle cx="403.4" cy="911.6" r="5.35"/><circle cx="409.1" cy="910.5" r="5.35"/><circle cx="414.9" cy="910.9" r="5.35"/><circle cx="390.9" cy="906.3" r="5.35"/><circle cx="396.9" cy="907.0" r="5.35"/><circle cx="400.9" cy="906.2" r="5.35"/><circle cx="406.3" cy="906.3" r="5.35"/><circle cx="411.1" cy="907.1" r="5.35"/><circle cx="394.9" cy="901.5" r="5.35"/><circle cx="399.3" cy="903.0" r="5.35"/><circle cx="404.7" cy="901.1" r="5.35"/><circle cx="410.6" cy="902.6" r="5.35"/><circle cx="414.4" cy="903.3" r="5.35"/><circle cx="392.3" cy="898.1" r="5.35"/><circle cx="395.8" cy="897.2" r="5.35"/><circle cx="402.8" cy="898.5" r="5.35"/><circle cx="405.9" cy="896.8" r="5.35"/><circle cx="410.8" cy="898.1" r="5.35"/><circle cx="395.5" cy="892.6" r="5.35"/><circle cx="399.9" cy="893.9" r="5.35"/><circle cx="403.9" cy="894.5" r="5.35"/><circle cx="410.0" cy="893.7" r="5.35"/><circle cx="414.0" cy="892.9" r="5.35"/><circle cx="391.3" cy="889.6" r="5.35"/><circle cx="396.2" cy="890.2" r="5.35"/><circle cx="403.1" cy="889.4" r="5.35"/><circle cx="406.5" cy="889.7" r="5.35"/><circle cx="411.3" cy="888.3" r="5.35"/><circle cx="393.9" cy="883.9" r="5.35"/><circle cx="398.7" cy="884.2" r="5.35"/><circle cx="403.5" cy="885.6" r="5.35"/><circle cx="409.9" cy="884.4" r="5.35"/><circle cx="415.6" cy="886.0" r="5.35"/><circle cx="407.3" cy="881.7" r="5.35"/><circle cx="412.3" cy="879.5" r="5.35"/><circle cx="404.4" cy="876.4" r="5.35"/><circle cx="402.8" cy="856.8" r="5.35"/><circle cx="402.8" cy="866.4" r="5.35"/><circle cx="401" cy="872.6" r="5.35"/><circle cx="413.3" cy="875.2" r="5.35"/><circle cx="397.5" cy="876.1" r="5.35"/><circle cx="392.3" cy="882.2" r="5.35"/><circle cx="408" cy="883.1" r="5.35"/></g>
<g fill="#458B00"><circle cx="424.6" cy="923.5" r="5.35"/><circle cx="430.2" cy="923.9" r="5.35"/><circle cx="438.9" cy="923.1" r="5.35"/><circle cx="450.6" cy="923.3" r="5.35"/><circle cx="453.9" cy="923.1" r="5.35"/><circle cx="423.1" cy="920.2" r="5.35"/><circle cx="428.5" cy="920.7" r="5.35"/><circle cx="431.5" cy="920.2" r="5.35"/><circle cx="437.6" cy="919.1" r="5.35"/><circle cx="443.2" cy="920.3" r="5.35"/><circle cx="448.1" cy="918.7" r="5.35"/><circle cx="451.4" cy="918.5" r="5.35"/><circle cx="457.9" cy="920.8" r="5.35"/><circle cx="462.8" cy="919.9" r="5.35"/><circle cx="421.1" cy="916.1" r="5.35"/><circle cx="424.0" cy="916.2" r="5.35"/><circle cx="430.6" cy="916.2" r="5.35"/><circle cx="434.3" cy="915.1" r="5.35"/><circle cx="440.8" cy="916.5" r="5.35"/><circle cx="445.3" cy="916.2" r="5.35"/><circle cx="450.2" cy="914.6" r="5.35"/><circle cx="454.9" cy="915.3" r="5.35"/><circle cx="459.6" cy="916.1" r="5.35"/><circle cx="422.9" cy="911.5" r="5.35"/><circle cx="428.2" cy="910.7" r="5.35"/><circle cx="433.4" cy="909.9" r="5.35"/><circle cx="437.6" cy="910.7" r="5.35"/><circle cx="442.0" cy="911.5" r="5.35"/><circle cx="448.7" cy="911.6" r="5.35"/><circle cx="453.3" cy="910.1" r="5.35"/><circle cx="458.4" cy="911.6" r="5.35"/><circle cx="463.0" cy="910.7" r="5.35"/><circle cx="420.6" cy="907.0" r="5.35"/><circle cx="425.3" cy="905.5" r="5.35"/><circle cx="430.8" cy="907.6" r="5.35"/><circle cx="435.6" cy="905.8" r="5.35"/><circle cx="439.6" cy="905.6" r="5.35"/><circle cx="445.1" cy="907.4" r="5.35"/><circle cx="449.5" cy="905.4" r="5.35"/><circle cx="454.4" cy="907.4" r="5.35"/><circle cx="459.3" cy="906.6" r="5.35"/><circle cx="423.6" cy="901.1" r="5.35"/><circle cx="427.6" cy="902.6" r="5.35"/><circle cx="433.3" cy="901.3" r="5.35"/><circle cx="438.3" cy="901.5" r="5.35"/><circle cx="442.8" cy="901.4" r="5.35"/><circle cx="446.6" cy="901.5" r="5.35"/><circle cx="453.2" cy="902.5" r="5.35"/><circle cx="457.8" cy="902.0" r="5.35"/><circle cx="425.2" cy="899.0" r="5.35"/><circle cx="428.9" cy="898.6" r="5.35"/><circle cx="435.2" cy="897.2" r="5.35"/><circle cx="440.7" cy="897.9" r="5.35"/><circle cx="445.5" cy="898.1" r="5.35"/><circle cx="449.6" cy="898.0" r="5.35"/><circle cx="454.4" cy="898.6" r="5.35"/><circle cx="460.5" cy="898.3" r="5.35"/><circle cx="432.3" cy="893.4" r="5.35"/><circle cx="443.1" cy="894.6" r="5.35"/><circle cx="446.3" cy="892.7" r="5.35"/><circle cx="451.8" cy="894.6" r="5.35"/><circle cx="467.9" cy="877.7" r="5.35"/><circle cx="445.7" cy="871.7" r="5.35"/><circle cx="440.4" cy="873.4" r="5.35"/><circle cx="430.8" cy="879.6" r="5.35"/><circle cx="426.4" cy="883.1" r="5.35"/><circle cx="451" cy="880.4" r="5.35"/><circle cx="457.1" cy="886.6" r="5.35"/><circle cx="467.6" cy="879.6" r="5.35"/><circle cx="421.2" cy="891" r="5.35"/><circle cx="439.6" cy="890.1" r="5.35"/><circle cx="443.1" cy="891.8" r="5.35"/></g>
<g fill="#000000"><circle cx="472.4" cy="923.5" r="5.35"/><circle cx="477.8" cy="923.4" r="5.35"/><circle cx="497.1" cy="923.8" r="5.35"/><circle cx="507.1" cy="923.1" r="5.35"/><circle cx="516.0" cy="923.8" r="5.35"/><circle cx="475.3" cy="919.1" r="5.35"/><circle cx="480.3" cy="918.5" r="5.35"/><circle cx="484.6" cy="920.0" r="5.35"/><circle cx="488.8" cy="920.4" r="5.35"/><circle cx="495.3" cy="919.1" r="5.35"/><circle cx="500.3" cy="920.8" r="5.35"/><circle cx="505.2" cy="919.4" r="5.35"/><circle cx="509.9" cy="920.4" r="5.35"/><circle cx="514.2" cy="919.1" r="5.35"/><circle cx="520.4" cy="918.5" r="5.35"/><circle cx="471.2" cy="916.0" r="5.35"/><circle cx="477.6" cy="915.8" r="5.35"/><circle cx="482.2" cy="914.2" r="5.35"/><circle cx="486.8" cy="914.4" r="5.35"/><circle cx="491.5" cy="916.5" r="5.35"/><circle cx="497.4" cy="915.1" r="5.35"/><circle cx="501.0" cy="915.2" r="5.35"/><circle cx="507.1" cy="916.1" r="5.35"/><circle cx="512.5" cy="916.1" r="5.35"/><circle cx="516.8" cy="914.7" r="5.35"/><circle cx="474.5" cy="910.4" r="5.35"/><circle cx="480.4" cy="912.1" r="5.35"/><circle cx="483.9" cy="910.4" r="5.35"/><circle cx="488.8" cy="912.0" r="5.35"/><circle cx="493.4" cy="910.0" r="5.35"/><circle cx="500.6" cy="910.6" r="5.35"/><circle cx="503.8" cy="910.2" r="5.35"/><circle cx="508.5" cy="911.0" r="5.35"/><circle cx="514.1" cy="911.6" r="5.35"/><circle cx="518.9" cy="910.5" r="5.35"/><circle cx="472.0" cy="906.9" r="5.35"/><circle cx="476.6" cy="907.7" r="5.35"/><circle cx="480.9" cy="906.4" r="5.35"/><circle cx="486.2" cy="907.5" r="5.35"/><circle cx="492.0" cy="906.1" r="5.35"/><circle cx="496.5" cy="906.9" r="5.35"/><circle cx="502.4" cy="905.5" r="5.35"/><circle cx="507.5" cy="907.0" r="5.35"/><circle cx="512.8" cy="907.7" r="5.35"/><circle cx="516.8" cy="906.7" r="5.35"/><circle cx="474.9" cy="902.9" r="5.35"/><circle cx="479.7" cy="901.6" r="5.35"/><circle cx="483.3" cy="902.3" r="5.35"/><circle cx="490.5" cy="902.2" r="5.35"/><circle cx="493.8" cy="901.1" r="5.35"/><circle cx="499.1" cy="902.0" r="5.35"/><circle cx="505.1" cy="903.1" r="5.35"/><circle cx="509.7" cy="902.6" r="5.35"/><circle cx="514.7" cy="902.2" r="5.35"/><circle cx="518.3" cy="902.9" r="5.35"/><circle cx="471.2" cy="898.3" r="5.35"/><circle cx="476.6" cy="896.9" r="5.35"/><circle cx="481.4" cy="896.9" r="5.35"/><circle cx="486.3" cy="897.6" r="5.35"/><circle cx="492.5" cy="898.7" r="5.35"/><circle cx="496.3" cy="897.0" r="5.35"/><circle cx="501.7" cy="898.4" r="5.35"/><circle cx="507.5" cy="897.6" r="5.35"/><circle cx="511.2" cy="898.5" r="5.35"/><circle cx="517.1" cy="898.7" r="5.35"/><circle cx="474.6" cy="893.1" r="5.35"/><circle cx="480.3" cy="892.9" r="5.35"/><circle cx="484.3" cy="892.7" r="5.35"/><circle cx="514.9" cy="893.8" r="5.35"/><circle cx="519.3" cy="893.5" r="5.35"/><circle cx="472.6" cy="889.8" r="5.35"/><circle cx="476.9" cy="889.7" r="5.35"/><circle cx="482.4" cy="890.3" r="5.35"/><circle cx="471" cy="839.5" r="5.35"/><circle cx="475.6" cy="844" r="5.35"/><circle cx="472" cy="851.5" r="5.35"/><circle cx="481.3" cy="851.2" r="5.35"/><circle cx="469.3" cy="862" r="5.35"/><circle cx="474.6" cy="866.4" r="5.35"/><circle cx="489.6" cy="864.6" r="5.35"/><circle cx="480.8" cy="871.2" r="5.35"/><circle cx="479.9" cy="878.2" r="5.35"/><circle cx="471.1" cy="884.8" r="5.35"/><circle cx="489.5" cy="891.8" r="5.35"/><circle cx="513.8" cy="862.9" r="5.35"/><circle cx="504.7" cy="875.1" r="5.35"/><circle cx="522.2" cy="872.5" r="5.35"/><circle cx="503.8" cy="889.1" r="5.35"/><circle cx="520.4" cy="885.6" r="5.35"/><circle cx="512.6" cy="890.9" r="5.35"/><circle cx="474" cy="885.6" r="5.35"/><circle cx="488" cy="892.6" r="5.35"/></g>
<g fill="#27408B"><circle cx="526.0" cy="923.3" r="5.35"/><circle cx="528.9" cy="923.8" r="5.35"/><circle cx="528.3" cy="918.9" r="5.35"/><circle cx="525.6" cy="914.2" r="5.35"/><circle cx="529.2" cy="915.9" r="5.35"/><circle cx="526.6" cy="910.0" r="5.35"/><circle cx="525.5" cy="905.7" r="5.35"/><circle cx="529.4" cy="905.5" r="5.35"/><circle cx="528.1" cy="902.3" r="5.35"/><circle cx="523.9" cy="898.4" r="5.35"/><circle cx="527.4" cy="890.9" r="5.35"/><circle cx="529.2" cy="900.5" r="5.35"/><circle cx="524.8" cy="911.9" r="5.35"/></g>
<g fill="#B22222"><circle cx="552.0" cy="922.9" r="5.35"/><circle cx="556.4" cy="923.6" r="5.35"/><circle cx="539.7" cy="920.3" r="5.35"/><circle cx="544.2" cy="919.9" r="5.35"/><circle cx="548.9" cy="920.4" r="5.35"/><circle cx="554.8" cy="919.7" r="5.35"/><circle cx="536.9" cy="916.0" r="5.35"/><circle cx="541.9" cy="915.2" r="5.35"/><circle cx="547.3" cy="914.8" r="5.35"/><circle cx="552.8" cy="914.8" r="5.35"/><circle cx="555.9" cy="916.1" r="5.35"/><circle cx="538.6" cy="909.9" r="5.35"/><circle cx="543.8" cy="912.0" r="5.35"/><circle cx="549.8" cy="910.6" r="5.35"/><circle cx="553.6" cy="910.4" r="5.35"/><circle cx="536.0" cy="906.8" r="5.35"/><circle cx="540.8" cy="907.5" r="5.35"/><circle cx="546.2" cy="905.5" r="5.35"/><circle cx="551.0" cy="906.6" r="5.35"/><circle cx="556.2" cy="907.5" r="5.35"/><circle cx="540.1" cy="901.6" r="5.35"/><circle cx="545.0" cy="902.9" r="5.35"/><circle cx="550.6" cy="902.1" r="5.35"/><circle cx="555.5" cy="901.8" r="5.35"/><circle cx="536.3" cy="896.9" r="5.35"/><circle cx="542.1" cy="898.3" r="5.35"/><circle cx="546.7" cy="898.5" r="5.35"/><circle cx="551.1" cy="898.1" r="5.35"/><circle cx="535.9" cy="800.1" r="5.35"/><circle cx="555.5" cy="824.8" r="5.35"/><circle cx="536.7" cy="846.2" r="5.35"/><circle cx="537.1" cy="855.8" r="5.35"/><circle cx="538.8" cy="862.9" r="5.35"/><circle cx="553.4" cy="858.8" r="5.35"/><circle cx="539.7" cy="876" r="5.35"/><circle cx="536.7" cy="882.1" r="5.35"/><circle cx="537.1" cy="892.6" r="5.35"/><circle cx="547.6" cy="891.8" r="5.35"/><circle cx="559.9" cy="892.6" r="5.35"/></g>
<g fill="#556B2F"><circle cx="572.4" cy="922.9" r="5.35"/><circle cx="587.7" cy="923.8" r="5.35"/><circle cx="591.4" cy="924.0" r="5.35"/><circle cx="596.5" cy="923.0" r="5.35"/><circle cx="569.9" cy="920.5" r="5.35"/><circle cx="573.7" cy="920.0" r="5.35"/><circle cx="579.6" cy="919.1" r="5.35"/><circle cx="585.3" cy="920.4" r="5.35"/><circle cx="590.1" cy="918.5" r="5.35"/><circle cx="593.3" cy="919.5" r="5.35"/><circle cx="598.3" cy="920.4" r="5.35"/><circle cx="567.6" cy="916.4" r="5.35"/><circle cx="572.6" cy="915.6" r="5.35"/><circle cx="577.6" cy="916.0" r="5.35"/><circle cx="582.7" cy="914.5" r="5.35"/><circle cx="588.0" cy="914.6" r="5.35"/><circle cx="592.0" cy="915.9" r="5.35"/><circle cx="595.9" cy="914.7" r="5.35"/><circle cx="570.4" cy="911.1" r="5.35"/><circle cx="574.2" cy="911.0" r="5.35"/><circle cx="580.4" cy="910.6" r="5.35"/><circle cx="584.1" cy="910.4" r="5.35"/><circle cx="589.3" cy="911.2" r="5.35"/><circle cx="594.4" cy="911.6" r="5.35"/><circle cx="600.0" cy="911.1" r="5.35"/><circle cx="566.6" cy="906.5" r="5.35"/><circle cx="571.5" cy="907.3" r="5.35"/><circle cx="576.2" cy="906.7" r="5.35"/><circle cx="587.0" cy="907.1" r="5.35"/><circle cx="592.1" cy="906.1" r="5.35"/><circle cx="597.8" cy="907.0" r="5.35"/><circle cx="569.3" cy="902.4" r="5.35"/><circle cx="574.8" cy="903.4" r="5.35"/><circle cx="579.4" cy="901.3" r="5.35"/><circle cx="584.7" cy="902.7" r="5.35"/><circle cx="594.6" cy="903.2" r="5.35"/><circle cx="600.5" cy="902.5" r="5.35"/><circle cx="567.3" cy="899.0" r="5.35"/><circle cx="591.8" cy="896.7" r="5.35"/><circle cx="597.4" cy="897.3" r="5.35"/><circle cx="586.5" cy="874.4" r="5.35"/><circle cx="594.3" cy="877.7" r="5.35"/><circle cx="572.9" cy="888.8" r="5.35"/><circle cx="585.5" cy="886.8" r="5.35"/><circle cx="602.9" cy="887.2" r="5.35"/><circle cx="567.1" cy="896" r="5.35"/><circle cx="580.1" cy="900.5" r="5.35"/><circle cx="596.5" cy="895.9" r="5.35"/></g>
<g fill="#00FA9A"><circle cx="610.8" cy="920.2" r="5.35"/><circle cx="616.4" cy="920.8" r="5.35"/><circle cx="608.2" cy="914.5" r="5.35"/><circle cx="613.9" cy="916.3" r="5.35"/><circle cx="610.2" cy="911.3" r="5.35"/><circle cx="614.6" cy="911.1" r="5.35"/><circle cx="607.5" cy="905.4" r="5.35"/><circle cx="612.6" cy="906.3" r="5.35"/><circle cx="611.0" cy="903.2" r="5.35"/><circle cx="616.0" cy="902.9" r="5.35"/><circle cx="608.6" cy="898.1" r="5.35"/><circle cx="613.0" cy="897.8" r="5.35"/><circle cx="607.4" cy="890.4" r="5.35"/><circle cx="618.4" cy="892.3" r="5.35"/></g>
<g fill="#A020F0"><circle cx="625.7" cy="923.3" r="5.35"/><circle cx="630.1" cy="922.9" r="5.35"/><circle cx="628.4" cy="919.5" r="5.35"/><circle cx="631.9" cy="918.9" r="5.35"/><circle cx="624.8" cy="915.7" r="5.35"/><circle cx="629.3" cy="915.9" r="5.35"/><circle cx="627.3" cy="910.2" r="5.35"/><circle cx="632.9" cy="911.6" r="5.35"/><circle cx="624.6" cy="906.7" r="5.35"/><circle cx="629.7" cy="905.4" r="5.35"/><circle cx="628.5" cy="902.2" r="5.35"/><circle cx="631.4" cy="902.5" r="5.35"/><circle cx="625.3" cy="897.6" r="5.35"/><circle cx="629.3" cy="897.4" r="5.35"/><circle cx="632.5" cy="893.7" r="5.35"/><circle cx="632.1" cy="861.6" r="5.35"/><circle cx="625.7" cy="885.9" r="5.35"/><circle cx="633" cy="887.7" r="5.35"/></g>
<g fill="#7F7F7F"><circle cx="648.2" cy="923.7" r="5.35"/><circle cx="662.2" cy="923.4" r="5.35"/><circle cx="640.1" cy="919.6" r="5.35"/><circle cx="644.9" cy="918.9" r="5.35"/><circle cx="651.5" cy="918.9" r="5.35"/><circle cx="656.1" cy="920.2" r="5.35"/><circle cx="660.6" cy="920.4" r="5.35"/><circle cx="666.5" cy="918.6" r="5.35"/><circle cx="670.2" cy="919.4" r="5.35"/><circle cx="639.1" cy="916.1" r="5.35"/><circle cx="643.7" cy="916.1" r="5.35"/><circle cx="648.3" cy="916.5" r="5.35"/><circle cx="652.9" cy="915.0" r="5.35"/><circle cx="657.9" cy="914.4" r="5.35"/><circle cx="663.4" cy="915.4" r="5.35"/><circle cx="668.8" cy="914.8" r="5.35"/><circle cx="640.8" cy="911.4" r="5.35"/><circle cx="644.5" cy="909.8" r="5.35"/><circle cx="650.5" cy="909.8" r="5.35"/><circle cx="654.5" cy="910.9" r="5.35"/><circle cx="659.8" cy="910.7" r="5.35"/><circle cx="665.0" cy="911.2" r="5.35"/><circle cx="671.0" cy="910.3" r="5.35"/><circle cx="639.2" cy="907.3" r="5.35"/><circle cx="643.7" cy="906.4" r="5.35"/><circle cx="647.5" cy="905.8" r="5.35"/><circle cx="652.7" cy="905.9" r="5.35"/><circle cx="657.1" cy="906.4" r="5.35"/><circle cx="661.9" cy="907.8" r="5.35"/><circle cx="668.4" cy="905.8" r="5.35"/><circle cx="639.4" cy="903.1" r="5.35"/><circle cx="646.6" cy="903.4" r="5.35"/><circle cx="650.0" cy="901.5" r="5.35"/><circle cx="655.4" cy="902.3" r="5.35"/><circle cx="660.5" cy="901.5" r="5.35"/><circle cx="664.7" cy="901.1" r="5.35"/><circle cx="643.2" cy="897.4" r="5.35"/><circle cx="647.2" cy="898.0" r="5.35"/><circle cx="653.1" cy="898.5" r="5.35"/><circle cx="658.9" cy="897.1" r="5.35"/><circle cx="663.2" cy="898.9" r="5.35"/><circle cx="644.7" cy="894.7" r="5.35"/><circle cx="655.1" cy="892.5" r="5.35"/><circle cx="647.6" cy="801.4" r="5.35"/><circle cx="651.2" cy="827.1" r="5.35"/><circle cx="656.7" cy="852.7" r="5.35"/><circle cx="658.5" cy="872.2" r="5.35"/><circle cx="645.8" cy="879.5" r="5.35"/><circle cx="651.2" cy="883.1" r="5.35"/><circle cx="669.5" cy="883.1" r="5.35"/><circle cx="660.4" cy="892.3" r="5.35"/></g>
<line x1="109.3" y1="658.8" x2="109.3" y2="927.0" stroke="#000" stroke-width="2.8"/>
<line x1="107.89999999999999" y1="925.7" x2="676" y2="925.7" stroke="#000" stroke-width="2.6"/>
<line x1="101.3" y1="923.3" x2="109.3" y2="923.3" stroke="#000" stroke-width="2.8"/>
<text x="95.5" y="930.9" text-anchor="end" font-size="21">0</text>
<line x1="101.3" y1="857.8" x2="109.3" y2="857.8" stroke="#000" stroke-width="2.8"/>
<text x="95.5" y="865.4" text-anchor="end" font-size="21">5</text>
<line x1="101.3" y1="792.4" x2="109.3" y2="792.4" stroke="#000" stroke-width="2.8"/>
<text x="95.5" y="800.0" text-anchor="end" font-size="21">10</text>
<line x1="101.3" y1="726.9" x2="109.3" y2="726.9" stroke="#000" stroke-width="2.8"/>
<text x="95.5" y="734.5" text-anchor="end" font-size="21">15</text>
<line x1="101.3" y1="661.5" x2="109.3" y2="661.5" stroke="#000" stroke-width="2.8"/>
<text x="95.5" y="669.1" text-anchor="end" font-size="21">20</text>
<line x1="124.8" y1="925.7" x2="124.8" y2="933.7" stroke="#000" stroke-width="2.6"/>
<text transform="translate(132.0,940.8) rotate(-90)" text-anchor="end" font-size="20.7">Infectious diseases</text>
<line x1="158.3" y1="925.7" x2="158.3" y2="933.7" stroke="#000" stroke-width="2.6"/>
<text transform="translate(165.5,940.8) rotate(-90)" text-anchor="end" font-size="20.7">Neoplasms</text>
<line x1="205.1" y1="925.7" x2="205.1" y2="933.7" stroke="#000" stroke-width="2.6"/>
<text transform="translate(212.3,940.8) rotate(-90)" text-anchor="end" font-size="20.7">Endocrine/metabolic</text>
<line x1="239.5" y1="925.7" x2="239.5" y2="933.7" stroke="#000" stroke-width="2.6"/>
<text transform="translate(246.7,940.8) rotate(-90)" text-anchor="end" font-size="20.7">Hematopoietic</text>
<line x1="260.9" y1="925.7" x2="260.9" y2="933.7" stroke="#000" stroke-width="2.6"/>
<text transform="translate(268.1,940.8) rotate(-90)" text-anchor="end" font-size="20.7">Mental disorders</text>
<line x1="287.2" y1="925.7" x2="287.2" y2="933.7" stroke="#000" stroke-width="2.6"/>
<text transform="translate(294.4,940.8) rotate(-90)" text-anchor="end" font-size="20.7">Neurological</text>
<line x1="320.8" y1="925.7" x2="320.8" y2="933.7" stroke="#000" stroke-width="2.6"/>
<text transform="translate(328.0,940.8) rotate(-90)" text-anchor="end" font-size="20.7">Sense organs</text>
<line x1="367.1" y1="925.7" x2="367.1" y2="933.7" stroke="#000" stroke-width="2.6"/>
<text transform="translate(374.2,940.8) rotate(-90)" text-anchor="end" font-size="20.7">Circulatory system</text>
<line x1="405.7" y1="925.7" x2="405.7" y2="933.7" stroke="#000" stroke-width="2.6"/>
<text transform="translate(412.9,940.8) rotate(-90)" text-anchor="end" font-size="20.7">Respiratory</text>
<line x1="444.9" y1="925.7" x2="444.9" y2="933.7" stroke="#000" stroke-width="2.6"/>
<text transform="translate(452.1,940.8) rotate(-90)" text-anchor="end" font-size="20.7">Digestive</text>
<line x1="498.4" y1="925.7" x2="498.4" y2="933.7" stroke="#000" stroke-width="2.6"/>
<text transform="translate(505.6,940.8) rotate(-90)" text-anchor="end" font-size="20.7">Genitourinary</text>
<line x1="530.6" y1="925.7" x2="530.6" y2="933.7" stroke="#000" stroke-width="2.6"/>
<text transform="translate(537.9,940.8) rotate(-90)" text-anchor="end" font-size="20.7">Pregnancy complications</text>
<line x1="551.1" y1="925.7" x2="551.1" y2="933.7" stroke="#000" stroke-width="2.6"/>
<text transform="translate(558.3,940.8) rotate(-90)" text-anchor="end" font-size="20.7">Dermatologic</text>
<line x1="586.5" y1="925.7" x2="586.5" y2="933.7" stroke="#000" stroke-width="2.6"/>
<text transform="translate(593.7,940.8) rotate(-90)" text-anchor="end" font-size="20.7">Musculoskeletal</text>
<line x1="615.2" y1="925.7" x2="615.2" y2="933.7" stroke="#000" stroke-width="2.6"/>
<text transform="translate(622.5,940.8) rotate(-90)" text-anchor="end" font-size="20.7">Congenital anomalies</text>
<line x1="630.5" y1="925.7" x2="630.5" y2="933.7" stroke="#000" stroke-width="2.6"/>
<text transform="translate(637.8,940.8) rotate(-90)" text-anchor="end" font-size="20.7">Symptoms</text>
<line x1="654.0" y1="925.7" x2="654.0" y2="933.7" stroke="#000" stroke-width="2.6"/>
<text transform="translate(661.2,940.8) rotate(-90)" text-anchor="end" font-size="20.7">Injuries & poisonings</text>
<text x="392.5" y="634.6" text-anchor="middle" font-size="20.3" font-style="italic">GIGYF1</text>
<text transform="translate(55,792.4) rotate(-90)" text-anchor="middle" font-size="21">-log<tspan font-size="11.5" dy="7">10</tspan><tspan dy="-7"> P</tspan></text>
<text x="196.5" y="660.8" font-size="14.8">Diabetes mellitus</text>
<text x="199.5" y="682" font-size="14.8">Type 2 diabetes</text>
<text x="191.5" y="729.5" font-size="14.8">Hypothyroidism</text>
</svg>
</body></html>
